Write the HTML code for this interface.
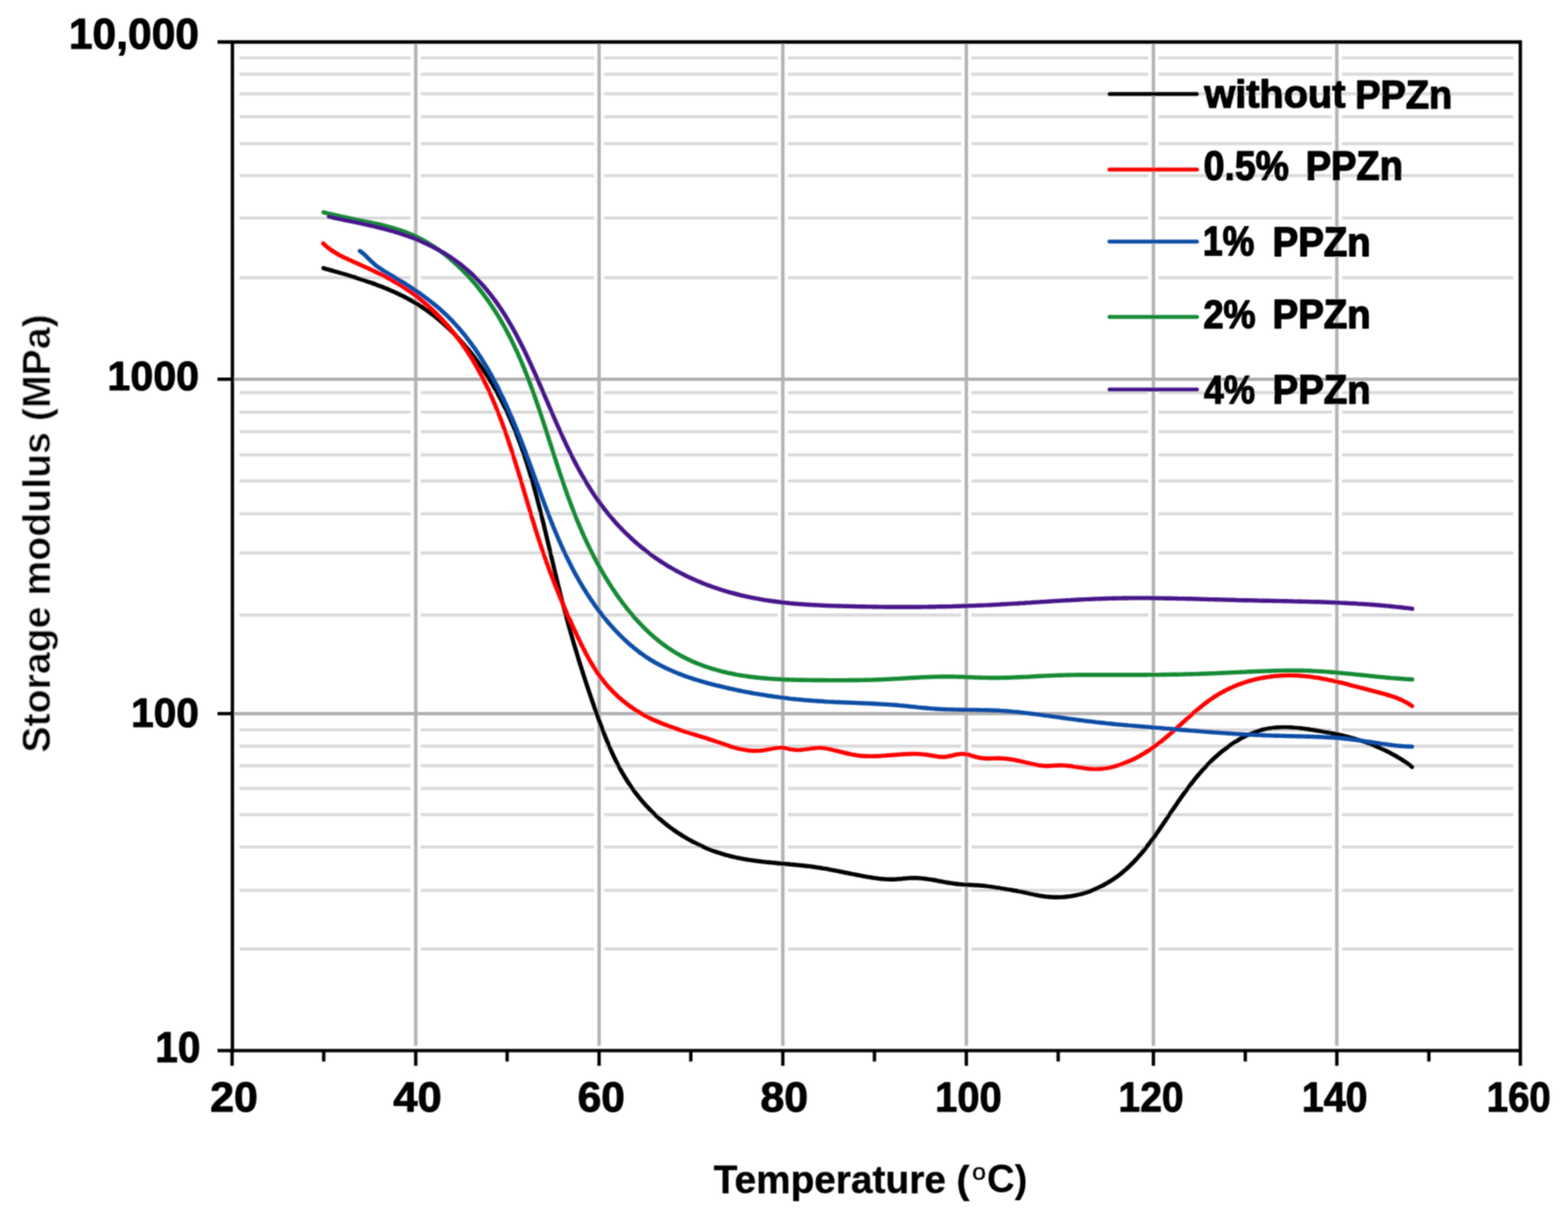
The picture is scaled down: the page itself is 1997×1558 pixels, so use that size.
<!DOCTYPE html>
<html><head><meta charset="utf-8"><title>Storage modulus vs Temperature</title><style>html,body{margin:0;padding:0;background:#fff;overflow:hidden}svg{display:block}</style></head>
<body>
<svg width="1997" height="1558" viewBox="0 0 1997 1558">
<defs><filter id="soft" filterUnits="userSpaceOnUse" x="0" y="0" width="1997" height="1558"><feConvolveMatrix order="3" kernelMatrix="1 2 1 2 4 2 1 2 1" divisor="16" edgeMode="none"/></filter></defs>
<rect width="100%" height="100%" fill="#fff"/>
<g filter="url(#soft)">
<path d="M305.0 73.7H523.0M536.0 73.7H756.5M769.5 73.7H990.5M1003.5 73.7H1224.2M1237.2 73.7H1462.5M1475.5 73.7H1696.1M1709.1 73.7H1927.3M305.0 94.5H523.0M536.0 94.5H756.5M769.5 94.5H990.5M1003.5 94.5H1224.2M1237.2 94.5H1462.5M1475.5 94.5H1696.1M1709.1 94.5H1927.3M305.0 119.6H523.0M536.0 119.6H756.5M769.5 119.6H990.5M1003.5 119.6H1224.2M1237.2 119.6H1462.5M1475.5 119.6H1696.1M1709.1 119.6H1927.3M305.0 148.8H523.0M536.0 148.8H756.5M769.5 148.8H990.5M1003.5 148.8H1224.2M1237.2 148.8H1462.5M1475.5 148.8H1696.1M1709.1 148.8H1927.3M305.0 182.9H523.0M536.0 182.9H756.5M769.5 182.9H990.5M1003.5 182.9H1224.2M1237.2 182.9H1462.5M1475.5 182.9H1696.1M1709.1 182.9H1927.3M305.0 223.7H523.0M536.0 223.7H756.5M769.5 223.7H990.5M1003.5 223.7H1224.2M1237.2 223.7H1462.5M1475.5 223.7H1696.1M1709.1 223.7H1927.3M305.0 277.8H523.0M536.0 277.8H756.5M769.5 277.8H990.5M1003.5 277.8H1224.2M1237.2 277.8H1462.5M1475.5 277.8H1696.1M1709.1 277.8H1927.3M305.0 353.7H523.0M536.0 353.7H756.5M769.5 353.7H990.5M1003.5 353.7H1224.2M1237.2 353.7H1462.5M1475.5 353.7H1696.1M1709.1 353.7H1927.3M305.0 500.2H523.0M536.0 500.2H756.5M769.5 500.2H990.5M1003.5 500.2H1224.2M1237.2 500.2H1462.5M1475.5 500.2H1696.1M1709.1 500.2H1927.3M305.0 524.9H523.0M536.0 524.9H756.5M769.5 524.9H990.5M1003.5 524.9H1224.2M1237.2 524.9H1462.5M1475.5 524.9H1696.1M1709.1 524.9H1927.3M305.0 549.9H523.0M536.0 549.9H756.5M769.5 549.9H990.5M1003.5 549.9H1224.2M1237.2 549.9H1462.5M1475.5 549.9H1696.1M1709.1 549.9H1927.3M305.0 579.6H523.0M536.0 579.6H756.5M769.5 579.6H990.5M1003.5 579.6H1224.2M1237.2 579.6H1462.5M1475.5 579.6H1696.1M1709.1 579.6H1927.3M305.0 612.8H523.0M536.0 612.8H756.5M769.5 612.8H990.5M1003.5 612.8H1224.2M1237.2 612.8H1462.5M1475.5 612.8H1696.1M1709.1 612.8H1927.3M305.0 654.4H523.0M536.0 654.4H756.5M769.5 654.4H990.5M1003.5 654.4H1224.2M1237.2 654.4H1462.5M1475.5 654.4H1696.1M1709.1 654.4H1927.3M305.0 704.5H523.0M536.0 704.5H756.5M769.5 704.5H990.5M1003.5 704.5H1224.2M1237.2 704.5H1462.5M1475.5 704.5H1696.1M1709.1 704.5H1927.3M305.0 783.6H523.0M536.0 783.6H756.5M769.5 783.6H990.5M1003.5 783.6H1224.2M1237.2 783.6H1462.5M1475.5 783.6H1696.1M1709.1 783.6H1927.3M305.0 929.7H523.0M536.0 929.7H756.5M769.5 929.7H990.5M1003.5 929.7H1224.2M1237.2 929.7H1462.5M1475.5 929.7H1696.1M1709.1 929.7H1927.3M305.0 950.6H523.0M536.0 950.6H756.5M769.5 950.6H990.5M1003.5 950.6H1224.2M1237.2 950.6H1462.5M1475.5 950.6H1696.1M1709.1 950.6H1927.3M305.0 975.6H523.0M536.0 975.6H756.5M769.5 975.6H990.5M1003.5 975.6H1224.2M1237.2 975.6H1462.5M1475.5 975.6H1696.1M1709.1 975.6H1927.3M305.0 1004.5H523.0M536.0 1004.5H756.5M769.5 1004.5H990.5M1003.5 1004.5H1224.2M1237.2 1004.5H1462.5M1475.5 1004.5H1696.1M1709.1 1004.5H1927.3M305.0 1037.7H523.0M536.0 1037.7H756.5M769.5 1037.7H990.5M1003.5 1037.7H1224.2M1237.2 1037.7H1462.5M1475.5 1037.7H1696.1M1709.1 1037.7H1927.3M305.0 1079.1H523.0M536.0 1079.1H756.5M769.5 1079.1H990.5M1003.5 1079.1H1224.2M1237.2 1079.1H1462.5M1475.5 1079.1H1696.1M1709.1 1079.1H1927.3M305.0 1134.3H523.0M536.0 1134.3H756.5M769.5 1134.3H990.5M1003.5 1134.3H1224.2M1237.2 1134.3H1462.5M1475.5 1134.3H1696.1M1709.1 1134.3H1927.3M305.0 1208.9H523.0M536.0 1208.9H756.5M769.5 1208.9H990.5M1003.5 1208.9H1224.2M1237.2 1208.9H1462.5M1475.5 1208.9H1696.1M1709.1 1208.9H1927.3" stroke="#dadada" stroke-width="4" fill="none"/>
<path d="M529.5 53.5V1332.3M763.0 53.5V1332.3M997.0 53.5V1332.3M1230.7 53.5V1332.3M1469.0 53.5V1332.3M1702.6 53.5V1332.3" stroke="#b4b4b4" stroke-width="4.4" fill="none"/>
<path d="M296.0 483.1H1936.3M296.0 909.1H1936.3" stroke="#b0b0b0" stroke-width="4.4" fill="none"/>
<g fill="none" stroke-width="5.4" stroke-linejoin="round" stroke-linecap="round">
<path d="M412.1 341.6C412.8 341.8 414.8 342.4 416.1 342.8C417.4 343.1 418.7 343.5 420.1 343.9C421.4 344.3 422.7 344.7 424.0 345.0C425.3 345.4 426.6 345.8 428.0 346.2C429.3 346.6 430.6 346.9 431.9 347.3C433.2 347.7 434.5 348.1 435.8 348.5C437.1 348.9 438.4 349.2 439.7 349.6C441.0 350.0 442.3 350.4 443.6 350.8C444.9 351.2 446.2 351.6 447.4 352.0C448.7 352.4 450.0 352.8 451.3 353.2C452.6 353.6 453.8 354.0 455.1 354.4C456.4 354.8 457.6 355.2 458.9 355.6C460.2 356.0 461.4 356.4 462.7 356.8C464.0 357.2 465.2 357.7 466.5 358.1C467.7 358.5 469.0 358.9 470.2 359.4C471.5 359.8 472.7 360.2 473.9 360.7C475.2 361.1 476.4 361.6 477.7 362.0C478.9 362.5 480.1 362.9 481.3 363.4C482.6 363.9 483.8 364.3 485.0 364.8C486.2 365.3 487.4 365.8 488.6 366.2C489.8 366.7 491.1 367.2 492.3 367.7C493.5 368.2 494.7 368.7 495.9 369.2C497.0 369.7 498.2 370.2 499.4 370.8C500.6 371.3 501.8 371.8 503.0 372.3C504.1 372.9 505.3 373.4 506.5 374.0C507.7 374.5 508.8 375.1 510.0 375.7C511.2 376.2 512.3 376.8 513.5 377.4C514.6 378.0 515.8 378.5 516.9 379.1C518.1 379.7 519.2 380.4 520.3 381.0C521.5 381.6 522.6 382.2 523.7 382.8C524.8 383.5 526.0 384.1 527.1 384.8C528.2 385.4 529.3 386.1 530.4 386.8C531.5 387.4 532.6 388.1 533.7 388.8C534.8 389.5 535.9 390.2 537.0 390.9C538.1 391.6 539.2 392.4 540.3 393.1C541.3 393.8 542.4 394.6 543.5 395.3C544.6 396.1 545.6 396.9 546.7 397.6C547.7 398.4 548.8 399.2 549.8 400.0C550.9 400.8 551.9 401.6 553.0 402.4C554.0 403.2 555.0 404.1 556.1 404.9C557.1 405.7 558.1 406.6 559.1 407.4C560.1 408.3 561.2 409.1 562.2 410.0C563.2 410.9 564.2 411.8 565.2 412.7C566.2 413.6 567.2 414.5 568.1 415.4C569.1 416.3 570.1 417.2 571.1 418.1C572.0 419.0 573.0 420.0 574.0 420.9C574.9 421.8 575.9 422.8 576.8 423.7C577.8 424.7 578.7 425.7 579.7 426.6C580.6 427.6 581.5 428.6 582.5 429.6C583.4 430.6 584.3 431.5 585.2 432.5C586.1 433.5 587.0 434.5 587.9 435.6C588.8 436.6 589.7 437.6 590.6 438.6C591.5 439.6 592.4 440.7 593.3 441.7C594.2 442.7 595.0 443.8 595.9 444.8C596.8 445.9 597.6 446.9 598.5 448.0C599.3 449.0 600.2 450.1 601.0 451.2C601.8 452.2 602.7 453.3 603.5 454.4C604.3 455.5 605.1 456.6 605.9 457.6C606.8 458.7 607.6 459.8 608.4 460.9C609.2 462.0 610.0 463.1 610.7 464.2C611.5 465.3 612.3 466.4 613.1 467.5C613.8 468.7 614.6 469.8 615.4 470.9C616.1 472.0 616.9 473.1 617.6 474.3C618.4 475.4 619.1 476.5 619.8 477.6C620.6 478.8 621.3 479.9 622.0 481.0C622.7 482.2 623.4 483.3 624.1 484.5C624.8 485.6 625.5 486.7 626.2 487.9C626.9 489.0 627.6 490.2 628.2 491.3C628.9 492.5 629.6 493.7 630.2 494.8C630.9 496.0 631.6 497.1 632.2 498.3C632.9 499.5 633.5 500.6 634.1 501.8C634.8 503.0 635.4 504.2 636.0 505.3C636.7 506.5 637.3 507.7 637.9 508.9C638.5 510.0 639.1 511.2 639.7 512.4C640.3 513.6 640.9 514.8 641.5 516.0C642.1 517.2 642.7 518.4 643.3 519.5C643.8 520.7 644.4 521.9 645.0 523.1C645.5 524.3 646.1 525.5 646.7 526.7C647.2 527.9 647.8 529.2 648.3 530.4C648.9 531.6 649.4 532.8 649.9 534.0C650.5 535.2 651.0 536.4 651.5 537.6C652.0 538.9 652.6 540.1 653.1 541.3C653.6 542.5 654.1 543.7 654.6 545.0C655.1 546.2 655.6 547.4 656.1 548.6C656.6 549.9 657.1 551.1 657.6 552.3C658.1 553.6 658.6 554.8 659.0 556.0C659.5 557.3 660.0 558.5 660.4 559.8C660.9 561.0 661.4 562.2 661.8 563.5C662.3 564.7 662.8 566.0 663.2 567.2C663.7 568.5 664.1 569.7 664.6 571.0C665.0 572.2 665.4 573.5 665.9 574.7C666.3 576.0 666.7 577.2 667.2 578.5C667.6 579.7 668.0 581.0 668.4 582.3C668.9 583.5 669.3 584.8 669.7 586.0C670.1 587.3 670.5 588.6 670.9 589.8C671.3 591.1 671.7 592.4 672.1 593.6C672.5 594.9 672.9 596.2 673.3 597.4C673.7 598.7 674.1 600.0 674.5 601.3C674.9 602.5 675.3 603.8 675.6 605.1C676.0 606.4 676.4 607.6 676.8 608.9C677.2 610.2 677.5 611.5 677.9 612.7C678.3 614.0 678.6 615.3 679.0 616.6C679.4 617.9 679.7 619.2 680.1 620.4C680.4 621.7 680.8 623.0 681.2 624.3C681.5 625.6 681.9 626.9 682.2 628.2C682.6 629.4 682.9 630.7 683.3 632.0C683.6 633.3 683.9 634.6 684.3 635.9C684.6 637.2 685.0 638.5 685.3 639.8C685.6 641.0 686.0 642.3 686.3 643.6C686.6 644.9 687.0 646.2 687.3 647.5C687.6 648.8 688.0 650.1 688.3 651.4C688.6 652.7 688.9 654.0 689.3 655.3C689.6 656.6 689.9 657.9 690.2 659.2C690.6 660.5 690.9 661.8 691.2 663.1C691.5 664.4 691.8 665.7 692.2 667.0C692.5 668.3 692.8 669.6 693.1 670.9C693.4 672.2 693.7 673.5 694.0 674.8C694.3 676.1 694.7 677.4 695.0 678.7C695.3 680.0 695.6 681.3 695.9 682.6C696.2 683.9 696.5 685.2 696.8 686.5C697.1 687.8 697.4 689.1 697.7 690.4C698.1 691.7 698.4 693.0 698.7 694.3C699.0 695.6 699.3 696.9 699.6 698.2C699.9 699.5 700.2 700.8 700.5 702.1C700.8 703.4 701.1 704.7 701.4 706.0C701.7 707.3 702.0 708.6 702.3 709.9C702.6 711.2 702.9 712.5 703.3 713.8C703.6 715.1 703.9 716.4 704.2 717.7C704.5 719.0 704.8 720.3 705.1 721.6C705.4 722.9 705.7 724.2 706.0 725.5C706.3 726.8 706.6 728.1 706.9 729.3C707.3 730.6 707.6 731.9 707.9 733.2C708.2 734.5 708.5 735.8 708.8 737.1C709.1 738.4 709.4 739.7 709.8 741.0C710.1 742.3 710.4 743.6 710.7 744.9C711.0 746.2 711.3 747.4 711.7 748.7C712.0 750.0 712.3 751.3 712.6 752.6C713.0 753.9 713.3 755.2 713.6 756.5C713.9 757.8 714.3 759.0 714.6 760.3C714.9 761.6 715.2 762.9 715.6 764.2C715.9 765.5 716.2 766.7 716.6 768.0C716.9 769.3 717.2 770.6 717.6 771.9C717.9 773.2 718.3 774.4 718.6 775.7C718.9 777.0 719.3 778.3 719.6 779.6C720.0 780.8 720.3 782.1 720.6 783.4C721.0 784.7 721.3 785.9 721.7 787.2C722.0 788.5 722.4 789.8 722.7 791.0C723.1 792.3 723.4 793.6 723.8 794.9C724.1 796.1 724.5 797.4 724.8 798.7C725.2 800.0 725.6 801.2 725.9 802.5C726.3 803.8 726.6 805.1 727.0 806.3C727.4 807.6 727.7 808.9 728.1 810.1C728.5 811.4 728.8 812.7 729.2 814.0C729.6 815.2 729.9 816.5 730.3 817.8C730.7 819.0 731.0 820.3 731.4 821.6C731.8 822.8 732.2 824.1 732.5 825.4C732.9 826.6 733.3 827.9 733.7 829.2C734.1 830.4 734.4 831.7 734.8 833.0C735.2 834.2 735.6 835.5 736.0 836.8C736.4 838.0 736.8 839.3 737.1 840.6C737.5 841.8 737.9 843.1 738.3 844.4C738.7 845.6 739.1 846.9 739.5 848.2C739.9 849.4 740.3 850.7 740.7 852.0C741.1 853.2 741.5 854.5 741.9 855.7C742.3 857.0 742.7 858.3 743.1 859.5C743.5 860.8 743.9 862.1 744.3 863.3C744.7 864.6 745.2 865.9 745.6 867.1C746.0 868.4 746.4 869.7 746.8 870.9C747.2 872.2 747.6 873.4 748.1 874.7C748.5 876.0 748.9 877.2 749.3 878.5C749.7 879.8 750.2 881.0 750.6 882.3C751.0 883.5 751.4 884.8 751.9 886.1C752.3 887.3 752.7 888.6 753.2 889.9C753.6 891.1 754.0 892.4 754.5 893.7C754.9 894.9 755.4 896.2 755.8 897.4C756.2 898.7 756.7 900.0 757.1 901.2C757.6 902.5 758.0 903.8 758.5 905.0C758.9 906.3 759.3 907.6 759.8 908.8C760.3 910.1 760.7 911.4 761.2 912.6C761.6 913.9 762.1 915.2 762.5 916.4C763.0 917.7 763.4 918.9 763.9 920.2C764.4 921.5 764.8 922.7 765.3 924.0C765.8 925.3 766.3 926.5 766.7 927.8C767.2 929.0 767.7 930.3 768.2 931.6C768.7 932.8 769.1 934.1 769.6 935.3C770.1 936.6 770.6 937.8 771.1 939.1C771.6 940.4 772.1 941.6 772.6 942.9C773.1 944.1 773.7 945.3 774.2 946.6C774.7 947.8 775.2 949.1 775.7 950.3C776.3 951.6 776.8 952.8 777.4 954.0C777.9 955.3 778.4 956.5 779.0 957.7C779.6 958.9 780.1 960.2 780.7 961.4C781.2 962.6 781.8 963.8 782.4 965.0C783.0 966.2 783.6 967.5 784.2 968.7C784.8 969.9 785.4 971.1 786.0 972.3C786.6 973.5 787.2 974.6 787.8 975.8C788.5 977.0 789.1 978.2 789.7 979.4C790.4 980.6 791.0 981.7 791.7 982.9C792.3 984.1 793.0 985.2 793.7 986.4C794.4 987.5 795.1 988.7 795.8 989.8C796.5 991.0 797.2 992.1 797.9 993.3C798.6 994.4 799.3 995.5 800.0 996.7C800.8 997.8 801.5 998.9 802.3 1000.0C803.0 1001.1 803.8 1002.2 804.5 1003.3C805.3 1004.4 806.1 1005.5 806.9 1006.6C807.7 1007.7 808.5 1008.7 809.3 1009.8C810.1 1010.9 810.9 1011.9 811.7 1013.0C812.5 1014.0 813.3 1015.1 814.2 1016.1C815.0 1017.1 815.9 1018.2 816.7 1019.2C817.6 1020.2 818.4 1021.2 819.3 1022.2C820.2 1023.2 821.1 1024.2 822.0 1025.2C822.8 1026.2 823.7 1027.2 824.7 1028.2C825.6 1029.1 826.5 1030.1 827.4 1031.0C828.3 1032.0 829.3 1032.9 830.2 1033.9C831.1 1034.8 832.1 1035.7 833.0 1036.6C834.0 1037.6 834.9 1038.5 835.9 1039.4C836.9 1040.3 837.9 1041.1 838.9 1042.0C839.8 1042.9 840.8 1043.8 841.8 1044.6C842.8 1045.5 843.8 1046.3 844.9 1047.2C845.9 1048.0 846.9 1048.9 847.9 1049.7C849.0 1050.5 850.0 1051.3 851.0 1052.1C852.1 1052.9 853.1 1053.7 854.2 1054.5C855.2 1055.3 856.3 1056.1 857.4 1056.8C858.4 1057.6 859.5 1058.3 860.6 1059.1C861.7 1059.8 862.8 1060.6 863.9 1061.3C865.0 1062.0 866.1 1062.7 867.2 1063.4C868.3 1064.1 869.4 1064.8 870.5 1065.5C871.6 1066.2 872.8 1066.9 873.9 1067.5C875.0 1068.2 876.2 1068.9 877.3 1069.5C878.4 1070.1 879.6 1070.8 880.8 1071.4C881.9 1072.0 883.1 1072.6 884.2 1073.2C885.4 1073.8 886.6 1074.4 887.7 1075.0C888.9 1075.6 890.1 1076.1 891.3 1076.7C892.5 1077.3 893.7 1077.8 894.9 1078.3C896.1 1078.9 897.3 1079.4 898.5 1079.9C899.7 1080.4 900.9 1080.9 902.1 1081.4C903.3 1081.9 904.5 1082.4 905.7 1082.9C907.0 1083.4 908.2 1083.8 909.4 1084.3C910.7 1084.7 911.9 1085.1 913.1 1085.6C914.4 1086.0 915.6 1086.4 916.9 1086.8C918.1 1087.2 919.4 1087.6 920.6 1088.0C921.9 1088.4 923.1 1088.7 924.4 1089.1C925.6 1089.4 926.9 1089.8 928.2 1090.1C929.5 1090.5 930.7 1090.8 932.0 1091.1C933.3 1091.4 934.6 1091.7 935.8 1092.0C937.1 1092.3 938.4 1092.6 939.7 1092.8C941.0 1093.1 942.3 1093.3 943.6 1093.6C944.9 1093.8 946.2 1094.1 947.5 1094.3C948.8 1094.5 950.1 1094.8 951.4 1095.0C952.7 1095.2 954.0 1095.4 955.3 1095.6C956.6 1095.8 957.9 1096.0 959.2 1096.2C960.5 1096.4 961.8 1096.5 963.2 1096.7C964.5 1096.9 965.8 1097.0 967.1 1097.2C968.4 1097.4 969.8 1097.5 971.1 1097.7C972.4 1097.8 973.7 1098.0 975.1 1098.1C976.4 1098.3 977.7 1098.4 979.1 1098.5C980.4 1098.7 981.7 1098.8 983.1 1098.9C984.4 1099.1 985.7 1099.2 987.1 1099.3C988.4 1099.4 989.7 1099.6 991.1 1099.7C992.4 1099.8 993.7 1099.9 995.1 1100.1C996.4 1100.2 997.8 1100.3 999.1 1100.4C1000.4 1100.5 1001.8 1100.7 1003.1 1100.8C1004.5 1100.9 1005.8 1101.0 1007.1 1101.2C1008.5 1101.3 1009.8 1101.4 1011.2 1101.5C1012.5 1101.7 1013.9 1101.8 1015.2 1101.9C1016.5 1102.1 1017.9 1102.2 1019.2 1102.3C1020.6 1102.5 1021.9 1102.6 1023.2 1102.8C1024.6 1102.9 1025.9 1103.1 1027.3 1103.2C1028.6 1103.4 1029.9 1103.6 1031.3 1103.7C1032.6 1103.9 1034.0 1104.1 1035.3 1104.2C1036.6 1104.4 1038.0 1104.6 1039.3 1104.8C1040.6 1105.0 1042.0 1105.2 1043.3 1105.4C1044.6 1105.6 1046.0 1105.8 1047.3 1106.1C1048.6 1106.3 1050.0 1106.5 1051.3 1106.7C1052.6 1107.0 1053.9 1107.2 1055.3 1107.4C1056.6 1107.7 1057.9 1107.9 1059.2 1108.2C1060.6 1108.4 1061.9 1108.7 1063.2 1108.9C1064.5 1109.2 1065.9 1109.5 1067.2 1109.7C1068.5 1110.0 1069.8 1110.2 1071.1 1110.5C1072.5 1110.8 1073.8 1111.0 1075.1 1111.3C1076.4 1111.6 1077.7 1111.8 1079.1 1112.1C1080.4 1112.4 1081.7 1112.6 1083.0 1112.9C1084.3 1113.2 1085.6 1113.4 1086.9 1113.7C1088.3 1113.9 1089.6 1114.2 1090.9 1114.5C1092.2 1114.7 1093.5 1115.0 1094.8 1115.2C1096.1 1115.5 1097.4 1115.7 1098.8 1116.0C1100.1 1116.2 1101.4 1116.5 1102.7 1116.7C1104.0 1116.9 1105.3 1117.2 1106.6 1117.4C1107.9 1117.6 1109.2 1117.8 1110.5 1118.0C1111.8 1118.2 1113.1 1118.4 1114.4 1118.6C1115.8 1118.8 1117.1 1119.0 1118.4 1119.1C1119.7 1119.3 1121.0 1119.4 1122.3 1119.6C1123.6 1119.7 1124.9 1119.8 1126.2 1119.9C1127.5 1120.0 1128.8 1120.1 1130.1 1120.1C1131.4 1120.2 1132.7 1120.2 1134.0 1120.2C1135.3 1120.2 1136.6 1120.2 1137.9 1120.2C1139.2 1120.2 1140.5 1120.1 1141.8 1120.0C1143.1 1119.9 1144.4 1119.8 1145.7 1119.7C1147.0 1119.6 1148.3 1119.5 1149.6 1119.3C1150.9 1119.2 1152.2 1119.1 1153.5 1119.0C1154.8 1118.8 1156.1 1118.7 1157.4 1118.6C1158.7 1118.6 1160.0 1118.5 1161.3 1118.5C1162.6 1118.4 1163.9 1118.4 1165.2 1118.4C1166.5 1118.5 1167.8 1118.5 1169.1 1118.6C1170.4 1118.7 1171.7 1118.8 1173.0 1118.9C1174.3 1119.0 1175.6 1119.1 1176.9 1119.3C1178.2 1119.4 1179.6 1119.6 1180.9 1119.8C1182.2 1120.0 1183.5 1120.2 1184.8 1120.4C1186.1 1120.6 1187.4 1120.8 1188.7 1121.0C1190.0 1121.3 1191.3 1121.5 1192.6 1121.7C1193.9 1122.0 1195.2 1122.2 1196.5 1122.5C1197.8 1122.7 1199.1 1122.9 1200.4 1123.2C1201.7 1123.4 1203.0 1123.7 1204.3 1123.9C1205.6 1124.1 1206.9 1124.4 1208.2 1124.6C1209.5 1124.8 1210.8 1125.0 1212.1 1125.2C1213.5 1125.4 1214.8 1125.6 1216.1 1125.8C1217.4 1125.9 1218.7 1126.1 1220.0 1126.2C1221.3 1126.4 1222.6 1126.5 1223.9 1126.6C1225.2 1126.7 1226.5 1126.8 1227.9 1126.9C1229.2 1126.9 1230.5 1127.0 1231.8 1127.1C1233.1 1127.2 1234.4 1127.2 1235.7 1127.3C1237.0 1127.3 1238.4 1127.4 1239.7 1127.5C1241.0 1127.5 1242.3 1127.6 1243.6 1127.7C1244.9 1127.8 1246.3 1127.9 1247.6 1128.0C1248.9 1128.1 1250.2 1128.2 1251.5 1128.3C1252.9 1128.5 1254.2 1128.6 1255.5 1128.8C1256.8 1129.0 1258.1 1129.1 1259.5 1129.3C1260.8 1129.5 1262.1 1129.7 1263.4 1129.9C1264.8 1130.2 1266.1 1130.4 1267.4 1130.6C1268.7 1130.8 1270.1 1131.0 1271.4 1131.2C1272.7 1131.5 1274.0 1131.7 1275.4 1131.9C1276.7 1132.1 1278.0 1132.3 1279.3 1132.5C1280.7 1132.7 1282.0 1132.9 1283.3 1133.1C1284.7 1133.3 1286.0 1133.5 1287.3 1133.7C1288.6 1133.9 1290.0 1134.1 1291.3 1134.3C1292.6 1134.6 1294.0 1134.8 1295.3 1135.0C1296.6 1135.2 1298.0 1135.5 1299.3 1135.7C1300.6 1136.0 1301.9 1136.3 1303.3 1136.5C1304.6 1136.8 1305.9 1137.1 1307.3 1137.4C1308.6 1137.7 1309.9 1138.0 1311.3 1138.3C1312.6 1138.6 1313.9 1138.9 1315.2 1139.1C1316.6 1139.4 1317.9 1139.7 1319.2 1140.0C1320.6 1140.3 1321.9 1140.5 1323.2 1140.8C1324.5 1141.0 1325.9 1141.3 1327.2 1141.5C1328.5 1141.7 1329.9 1141.9 1331.2 1142.1C1332.5 1142.3 1333.8 1142.4 1335.2 1142.5C1336.5 1142.7 1337.8 1142.8 1339.1 1142.8C1340.5 1142.9 1341.8 1143.0 1343.1 1143.0C1344.4 1143.0 1345.7 1143.0 1347.0 1143.0C1348.4 1143.0 1349.7 1143.0 1351.0 1142.9C1352.3 1142.9 1353.6 1142.8 1354.9 1142.7C1356.2 1142.6 1357.5 1142.4 1358.8 1142.3C1360.1 1142.2 1361.4 1142.0 1362.7 1141.8C1364.0 1141.6 1365.3 1141.4 1366.6 1141.2C1367.9 1140.9 1369.2 1140.7 1370.4 1140.4C1371.7 1140.1 1373.0 1139.9 1374.3 1139.5C1375.5 1139.2 1376.8 1138.9 1378.0 1138.6C1379.3 1138.2 1380.6 1137.8 1381.8 1137.4C1383.0 1137.1 1384.3 1136.7 1385.5 1136.2C1386.8 1135.8 1388.0 1135.4 1389.2 1134.9C1390.4 1134.4 1391.7 1133.9 1392.9 1133.5C1394.1 1133.0 1395.3 1132.4 1396.5 1131.9C1397.7 1131.4 1398.9 1130.8 1400.0 1130.3C1401.2 1129.7 1402.4 1129.1 1403.6 1128.5C1404.7 1127.9 1405.9 1127.3 1407.0 1126.6C1408.2 1126.0 1409.3 1125.4 1410.5 1124.7C1411.6 1124.0 1412.7 1123.3 1413.8 1122.7C1414.9 1122.0 1416.1 1121.2 1417.2 1120.5C1418.2 1119.8 1419.3 1119.0 1420.4 1118.3C1421.5 1117.5 1422.6 1116.8 1423.6 1116.0C1424.7 1115.2 1425.7 1114.4 1426.8 1113.6C1427.8 1112.8 1428.8 1111.9 1429.8 1111.1C1430.8 1110.3 1431.8 1109.4 1432.8 1108.5C1433.8 1107.7 1434.8 1106.8 1435.8 1105.9C1436.8 1105.0 1437.7 1104.1 1438.7 1103.2C1439.6 1102.3 1440.6 1101.4 1441.5 1100.4C1442.4 1099.5 1443.4 1098.5 1444.3 1097.6C1445.2 1096.6 1446.1 1095.7 1447.0 1094.7C1447.9 1093.7 1448.8 1092.7 1449.7 1091.7C1450.6 1090.7 1451.5 1089.7 1452.3 1088.7C1453.2 1087.7 1454.1 1086.7 1454.9 1085.7C1455.8 1084.6 1456.6 1083.6 1457.5 1082.6C1458.3 1081.5 1459.1 1080.5 1460.0 1079.4C1460.8 1078.4 1461.6 1077.3 1462.4 1076.2C1463.3 1075.2 1464.1 1074.1 1464.9 1073.0C1465.7 1071.9 1466.5 1070.8 1467.3 1069.8C1468.1 1068.7 1468.9 1067.6 1469.7 1066.5C1470.5 1065.4 1471.3 1064.3 1472.0 1063.2C1472.8 1062.1 1473.6 1061.0 1474.4 1059.8C1475.2 1058.7 1475.9 1057.6 1476.7 1056.5C1477.5 1055.4 1478.2 1054.3 1479.0 1053.1C1479.8 1052.0 1480.5 1050.9 1481.3 1049.8C1482.0 1048.7 1482.8 1047.5 1483.6 1046.4C1484.3 1045.3 1485.1 1044.2 1485.8 1043.0C1486.6 1041.9 1487.3 1040.8 1488.1 1039.7C1488.8 1038.5 1489.6 1037.4 1490.3 1036.3C1491.1 1035.2 1491.8 1034.1 1492.6 1032.9C1493.4 1031.8 1494.1 1030.7 1494.9 1029.6C1495.6 1028.5 1496.4 1027.4 1497.1 1026.3C1497.9 1025.2 1498.6 1024.1 1499.4 1023.0C1500.1 1021.9 1500.9 1020.8 1501.7 1019.7C1502.4 1018.6 1503.2 1017.5 1503.9 1016.4C1504.7 1015.3 1505.5 1014.2 1506.3 1013.1C1507.0 1012.0 1507.8 1011.0 1508.6 1009.9C1509.3 1008.8 1510.1 1007.7 1510.9 1006.7C1511.7 1005.6 1512.5 1004.6 1513.3 1003.5C1514.1 1002.4 1514.9 1001.4 1515.7 1000.3C1516.5 999.3 1517.3 998.2 1518.1 997.2C1518.9 996.2 1519.7 995.1 1520.5 994.1C1521.4 993.1 1522.2 992.0 1523.0 991.0C1523.8 990.0 1524.7 989.0 1525.5 988.0C1526.4 987.0 1527.2 986.0 1528.1 985.0C1528.9 984.0 1529.8 983.0 1530.7 982.0C1531.6 981.0 1532.4 980.1 1533.3 979.1C1534.2 978.1 1535.1 977.2 1536.0 976.2C1536.9 975.2 1537.8 974.3 1538.7 973.4C1539.7 972.4 1540.6 971.5 1541.5 970.5C1542.5 969.6 1543.4 968.7 1544.4 967.8C1545.3 966.9 1546.3 966.0 1547.3 965.1C1548.3 964.2 1549.2 963.3 1550.2 962.4C1551.2 961.5 1552.2 960.6 1553.3 959.8C1554.3 958.9 1555.3 958.1 1556.3 957.2C1557.4 956.4 1558.4 955.5 1559.5 954.7C1560.6 953.9 1561.6 953.1 1562.7 952.3C1563.8 951.5 1564.9 950.7 1566.0 949.9C1567.1 949.1 1568.2 948.3 1569.3 947.6C1570.4 946.8 1571.5 946.1 1572.7 945.4C1573.8 944.7 1575.0 943.9 1576.1 943.3C1577.3 942.6 1578.4 941.9 1579.6 941.2C1580.8 940.6 1581.9 939.9 1583.1 939.3C1584.3 938.7 1585.5 938.1 1586.7 937.5C1587.9 936.9 1589.1 936.4 1590.3 935.8C1591.5 935.3 1592.7 934.8 1594.0 934.3C1595.2 933.8 1596.4 933.3 1597.7 932.8C1598.9 932.4 1600.2 931.9 1601.4 931.5C1602.7 931.1 1603.9 930.7 1605.2 930.4C1606.4 930.0 1607.7 929.7 1609.0 929.4C1610.2 929.1 1611.5 928.8 1612.8 928.6C1614.1 928.3 1615.4 928.1 1616.7 927.9C1618.0 927.7 1619.2 927.5 1620.5 927.4C1621.8 927.2 1623.1 927.1 1624.4 927.0C1625.8 926.9 1627.1 926.8 1628.4 926.7C1629.7 926.6 1631.0 926.6 1632.3 926.6C1633.6 926.5 1635.0 926.5 1636.3 926.6C1637.6 926.6 1638.9 926.6 1640.3 926.6C1641.6 926.7 1642.9 926.7 1644.3 926.8C1645.6 926.9 1646.9 927.0 1648.3 927.1C1649.6 927.2 1650.9 927.3 1652.3 927.4C1653.6 927.5 1654.9 927.7 1656.3 927.8C1657.6 927.9 1658.9 928.1 1660.3 928.3C1661.6 928.4 1663.0 928.6 1664.3 928.8C1665.6 928.9 1667.0 929.1 1668.3 929.3C1669.7 929.5 1671.0 929.7 1672.3 929.9C1673.7 930.1 1675.0 930.3 1676.3 930.5C1677.7 930.7 1679.0 930.9 1680.3 931.1C1681.7 931.3 1683.0 931.5 1684.3 931.8C1685.7 932.0 1687.0 932.2 1688.3 932.5C1689.7 932.7 1691.0 933.0 1692.3 933.2C1693.6 933.5 1695.0 933.7 1696.3 934.0C1697.6 934.3 1698.9 934.5 1700.2 934.8C1701.6 935.1 1702.9 935.4 1704.2 935.7C1705.5 936.0 1706.8 936.3 1708.1 936.6C1709.4 936.9 1710.7 937.2 1712.0 937.5C1713.3 937.9 1714.6 938.2 1715.9 938.5C1717.2 938.9 1718.5 939.2 1719.8 939.6C1721.1 939.9 1722.4 940.3 1723.7 940.6C1725.0 941.0 1726.2 941.4 1727.5 941.8C1728.8 942.2 1730.1 942.6 1731.3 943.0C1732.6 943.4 1733.9 943.8 1735.1 944.2C1736.4 944.6 1737.7 945.0 1738.9 945.5C1740.2 945.9 1741.4 946.4 1742.7 946.8C1743.9 947.3 1745.2 947.8 1746.4 948.2C1747.6 948.7 1748.9 949.2 1750.1 949.7C1751.3 950.2 1752.6 950.7 1753.8 951.2C1755.0 951.7 1756.2 952.3 1757.4 952.8C1758.6 953.3 1759.8 953.9 1761.0 954.4C1762.2 955.0 1763.4 955.6 1764.6 956.1C1765.8 956.7 1767.0 957.3 1768.2 957.9C1769.4 958.5 1770.5 959.1 1771.7 959.8C1772.9 960.4 1774.0 961.0 1775.2 961.7C1776.3 962.3 1777.5 963.0 1778.6 963.6C1779.8 964.3 1780.9 965.0 1782.0 965.7C1783.2 966.4 1784.3 967.1 1785.4 967.8C1786.5 968.5 1787.6 969.2 1788.7 970.0C1789.8 970.7 1790.9 971.5 1792.0 972.2C1793.1 973.0 1794.2 973.8 1795.3 974.6C1796.4 975.4 1797.9 976.6 1798.5 977.0" stroke="#000000"/>
<path d="M411.6 310.2C412.1 310.7 413.7 312.1 414.7 313.0C415.8 313.9 416.8 314.8 417.9 315.6C419.0 316.5 420.1 317.3 421.2 318.1C422.3 318.8 423.4 319.6 424.5 320.3C425.6 321.0 426.7 321.7 427.8 322.4C429.0 323.1 430.1 323.7 431.2 324.3C432.4 325.0 433.5 325.6 434.7 326.2C435.8 326.8 437.0 327.3 438.2 327.9C439.3 328.5 440.5 329.0 441.7 329.6C442.9 330.1 444.0 330.7 445.2 331.2C446.4 331.8 447.6 332.3 448.8 332.8C450.0 333.4 451.2 333.9 452.4 334.4C453.6 335.0 454.8 335.5 456.0 336.0C457.2 336.6 458.4 337.1 459.6 337.7C460.8 338.2 462.0 338.7 463.2 339.3C464.4 339.8 465.7 340.4 466.9 340.9C468.1 341.5 469.3 342.1 470.5 342.6C471.7 343.2 472.9 343.7 474.2 344.3C475.4 344.9 476.6 345.5 477.8 346.0C479.0 346.6 480.2 347.2 481.4 347.8C482.6 348.4 483.9 349.0 485.1 349.6C486.3 350.2 487.5 350.8 488.7 351.4C489.9 352.0 491.1 352.6 492.3 353.3C493.4 353.9 494.6 354.5 495.8 355.2C497.0 355.8 498.2 356.4 499.4 357.1C500.5 357.8 501.7 358.4 502.9 359.1C504.0 359.8 505.2 360.4 506.4 361.1C507.5 361.8 508.7 362.5 509.8 363.2C510.9 363.9 512.1 364.6 513.2 365.3C514.3 366.1 515.4 366.8 516.6 367.5C517.7 368.3 518.8 369.0 519.9 369.8C521.0 370.5 522.1 371.3 523.2 372.1C524.3 372.9 525.3 373.6 526.4 374.4C527.5 375.2 528.6 376.0 529.6 376.8C530.7 377.6 531.7 378.4 532.8 379.3C533.8 380.1 534.9 380.9 535.9 381.8C536.9 382.6 538.0 383.4 539.0 384.3C540.0 385.1 541.0 386.0 542.0 386.9C543.0 387.7 544.0 388.6 545.0 389.5C546.0 390.4 547.0 391.3 548.0 392.2C549.0 393.1 549.9 394.0 550.9 394.9C551.9 395.8 552.8 396.7 553.8 397.6C554.7 398.5 555.7 399.5 556.6 400.4C557.6 401.3 558.5 402.3 559.4 403.2C560.3 404.2 561.3 405.1 562.2 406.1C563.1 407.1 564.0 408.0 564.9 409.0C565.8 410.0 566.7 411.0 567.6 412.0C568.4 412.9 569.3 413.9 570.2 414.9C571.1 415.9 571.9 416.9 572.8 417.9C573.6 419.0 574.5 420.0 575.3 421.0C576.2 422.0 577.0 423.0 577.8 424.1C578.7 425.1 579.5 426.1 580.3 427.2C581.1 428.2 581.9 429.3 582.7 430.3C583.5 431.4 584.3 432.4 585.1 433.5C585.9 434.5 586.7 435.6 587.4 436.7C588.2 437.8 589.0 438.8 589.7 439.9C590.5 441.0 591.3 442.1 592.0 443.2C592.7 444.3 593.5 445.3 594.2 446.4C594.9 447.5 595.7 448.6 596.4 449.7C597.1 450.8 597.8 452.0 598.5 453.1C599.2 454.2 599.9 455.3 600.6 456.4C601.3 457.5 602.0 458.7 602.6 459.8C603.3 460.9 604.0 462.1 604.7 463.2C605.3 464.3 606.0 465.5 606.6 466.6C607.3 467.8 607.9 468.9 608.6 470.1C609.2 471.2 609.8 472.4 610.5 473.5C611.1 474.7 611.7 475.8 612.3 477.0C613.0 478.2 613.6 479.3 614.2 480.5C614.8 481.7 615.4 482.9 616.0 484.0C616.6 485.2 617.2 486.4 617.7 487.6C618.3 488.8 618.9 490.0 619.5 491.1C620.1 492.3 620.6 493.5 621.2 494.7C621.8 495.9 622.3 497.1 622.9 498.3C623.4 499.5 624.0 500.7 624.5 501.9C625.1 503.2 625.6 504.4 626.1 505.6C626.7 506.8 627.2 508.0 627.7 509.2C628.2 510.4 628.8 511.7 629.3 512.9C629.8 514.1 630.3 515.3 630.8 516.6C631.3 517.8 631.8 519.0 632.3 520.3C632.8 521.5 633.3 522.7 633.8 524.0C634.3 525.2 634.8 526.5 635.3 527.7C635.8 528.9 636.3 530.2 636.7 531.4C637.2 532.7 637.7 533.9 638.2 535.2C638.6 536.4 639.1 537.7 639.6 538.9C640.0 540.2 640.5 541.4 640.9 542.7C641.4 544.0 641.8 545.2 642.3 546.5C642.8 547.7 643.2 549.0 643.6 550.3C644.1 551.5 644.5 552.8 645.0 554.1C645.4 555.3 645.8 556.6 646.3 557.9C646.7 559.1 647.1 560.4 647.6 561.7C648.0 563.0 648.4 564.2 648.8 565.5C649.3 566.8 649.7 568.1 650.1 569.3C650.5 570.6 650.9 571.9 651.4 573.2C651.8 574.5 652.2 575.7 652.6 577.0C653.0 578.3 653.4 579.6 653.8 580.9C654.2 582.2 654.6 583.4 655.0 584.7C655.4 586.0 655.8 587.3 656.2 588.6C656.6 589.9 657.0 591.2 657.4 592.5C657.8 593.7 658.2 595.0 658.6 596.3C659.0 597.6 659.4 598.9 659.8 600.2C660.2 601.5 660.6 602.8 661.0 604.1C661.4 605.4 661.8 606.7 662.1 607.9C662.5 609.2 662.9 610.5 663.3 611.8C663.7 613.1 664.1 614.4 664.5 615.7C664.8 617.0 665.2 618.3 665.6 619.6C666.0 620.9 666.4 622.2 666.8 623.5C667.1 624.7 667.5 626.0 667.9 627.3C668.3 628.6 668.7 629.9 669.1 631.2C669.4 632.5 669.8 633.8 670.2 635.1C670.6 636.4 671.0 637.7 671.4 639.0C671.7 640.2 672.1 641.5 672.5 642.8C672.9 644.1 673.3 645.4 673.7 646.7C674.0 648.0 674.4 649.3 674.8 650.5C675.2 651.8 675.6 653.1 676.0 654.4C676.4 655.7 676.7 657.0 677.1 658.3C677.5 659.5 677.9 660.8 678.3 662.1C678.7 663.4 679.1 664.7 679.5 665.9C679.9 667.2 680.3 668.5 680.7 669.8C681.1 671.0 681.4 672.3 681.8 673.6C682.2 674.9 682.6 676.1 683.0 677.4C683.4 678.7 683.8 680.0 684.3 681.2C684.7 682.5 685.1 683.8 685.5 685.0C685.9 686.3 686.3 687.5 686.7 688.8C687.1 690.1 687.5 691.3 687.9 692.6C688.4 693.9 688.8 695.1 689.2 696.4C689.6 697.6 690.0 698.9 690.5 700.1C690.9 701.4 691.3 702.6 691.8 703.9C692.2 705.1 692.6 706.4 693.0 707.6C693.5 708.9 693.9 710.1 694.4 711.3C694.8 712.6 695.2 713.8 695.7 715.1C696.1 716.3 696.6 717.5 697.0 718.8C697.5 720.0 697.9 721.3 698.4 722.5C698.8 723.7 699.3 725.0 699.7 726.2C700.2 727.4 700.6 728.7 701.1 729.9C701.6 731.1 702.0 732.3 702.5 733.6C703.0 734.8 703.4 736.0 703.9 737.2C704.4 738.5 704.8 739.7 705.3 740.9C705.8 742.1 706.3 743.4 706.8 744.6C707.2 745.8 707.7 747.0 708.2 748.3C708.7 749.5 709.2 750.7 709.7 751.9C710.2 753.1 710.6 754.3 711.1 755.6C711.6 756.8 712.1 758.0 712.6 759.2C713.1 760.4 713.6 761.6 714.1 762.9C714.7 764.1 715.2 765.3 715.7 766.5C716.2 767.7 716.7 768.9 717.2 770.1C717.7 771.4 718.2 772.6 718.8 773.8C719.3 775.0 719.8 776.2 720.3 777.4C720.9 778.6 721.4 779.8 721.9 781.0C722.4 782.3 723.0 783.5 723.5 784.7C724.1 785.9 724.6 787.1 725.1 788.3C725.7 789.5 726.2 790.7 726.8 791.9C727.3 793.1 727.9 794.4 728.4 795.6C729.0 796.8 729.5 798.0 730.1 799.2C730.6 800.4 731.2 801.6 731.8 802.8C732.3 804.0 732.9 805.3 733.5 806.5C734.0 807.7 734.6 808.9 735.2 810.1C735.7 811.3 736.3 812.5 736.9 813.7C737.5 814.9 738.1 816.2 738.7 817.4C739.2 818.6 739.8 819.8 740.4 821.0C741.0 822.2 741.6 823.4 742.2 824.6C742.8 825.8 743.4 827.0 744.1 828.2C744.7 829.4 745.3 830.6 745.9 831.8C746.6 833.0 747.2 834.2 747.8 835.4C748.5 836.6 749.1 837.8 749.8 839.0C750.5 840.1 751.1 841.3 751.8 842.5C752.5 843.7 753.2 844.8 753.9 846.0C754.6 847.2 755.3 848.3 756.0 849.5C756.7 850.6 757.4 851.8 758.2 852.9C758.9 854.0 759.7 855.2 760.4 856.3C761.2 857.4 761.9 858.5 762.7 859.7C763.5 860.8 764.3 861.9 765.1 863.0C765.9 864.1 766.7 865.1 767.6 866.2C768.4 867.3 769.3 868.4 770.1 869.4C771.0 870.5 771.9 871.5 772.8 872.6C773.7 873.6 774.6 874.7 775.5 875.7C776.4 876.7 777.4 877.7 778.3 878.7C779.3 879.7 780.2 880.7 781.2 881.7C782.2 882.7 783.2 883.6 784.2 884.6C785.2 885.5 786.2 886.5 787.2 887.4C788.2 888.3 789.3 889.2 790.3 890.1C791.4 891.0 792.4 891.9 793.5 892.8C794.5 893.7 795.6 894.5 796.7 895.4C797.8 896.2 798.8 897.1 799.9 897.9C801.0 898.7 802.1 899.5 803.2 900.3C804.3 901.1 805.4 901.8 806.6 902.6C807.7 903.3 808.8 904.1 809.9 904.8C811.0 905.5 812.2 906.2 813.3 906.9C814.4 907.6 815.5 908.3 816.7 908.9C817.8 909.6 819.0 910.2 820.1 910.9C821.2 911.5 822.4 912.1 823.5 912.7C824.7 913.3 825.8 913.9 827.0 914.5C828.1 915.0 829.3 915.6 830.5 916.2C831.6 916.7 832.8 917.2 834.0 917.8C835.1 918.3 836.3 918.8 837.5 919.3C838.6 919.8 839.8 920.3 841.0 920.8C842.2 921.3 843.4 921.8 844.6 922.3C845.7 922.7 846.9 923.2 848.1 923.6C849.3 924.1 850.5 924.5 851.7 925.0C852.9 925.4 854.1 925.9 855.3 926.3C856.5 926.7 857.7 927.1 858.9 927.5C860.1 928.0 861.3 928.4 862.6 928.8C863.8 929.2 865.0 929.6 866.2 930.0C867.4 930.4 868.7 930.8 869.9 931.2C871.1 931.6 872.3 932.0 873.6 932.3C874.8 932.7 876.0 933.1 877.3 933.5C878.5 933.9 879.7 934.3 881.0 934.7C882.2 935.0 883.4 935.4 884.7 935.8C885.9 936.2 887.2 936.6 888.4 937.0C889.7 937.4 890.9 937.8 892.2 938.1C893.4 938.5 894.7 938.9 895.9 939.3C897.2 939.7 898.4 940.1 899.7 940.5C901.0 940.9 902.2 941.4 903.5 941.8C904.8 942.2 906.0 942.6 907.3 943.0C908.6 943.5 909.8 943.9 911.1 944.3C912.4 944.8 913.6 945.2 914.9 945.7C916.2 946.1 917.5 946.5 918.7 947.0C920.0 947.4 921.3 947.9 922.6 948.3C923.9 948.7 925.1 949.1 926.4 949.5C927.7 950.0 929.0 950.4 930.3 950.8C931.6 951.2 932.9 951.5 934.2 951.9C935.4 952.3 936.7 952.6 938.0 953.0C939.3 953.3 940.6 953.6 941.9 953.9C943.2 954.2 944.5 954.5 945.8 954.7C947.1 955.0 948.4 955.2 949.7 955.4C951.0 955.6 952.3 955.8 953.6 956.0C954.9 956.1 956.2 956.2 957.5 956.3C958.8 956.4 960.1 956.5 961.4 956.5C962.7 956.5 964.0 956.5 965.3 956.4C966.6 956.4 967.9 956.3 969.3 956.2C970.6 956.0 971.9 955.8 973.2 955.6C974.5 955.4 975.8 955.2 977.1 954.9C978.4 954.6 979.7 954.3 981.1 954.1C982.4 953.8 983.7 953.5 985.0 953.3C986.3 953.1 987.6 952.8 988.9 952.7C990.3 952.5 991.6 952.4 992.9 952.4C994.2 952.3 995.5 952.4 996.8 952.5C998.1 952.6 999.5 952.9 1000.8 953.1C1002.1 953.3 1003.4 953.6 1004.7 953.9C1006.1 954.2 1007.4 954.5 1008.7 954.7C1010.0 954.9 1011.3 955.1 1012.6 955.2C1014.0 955.4 1015.3 955.4 1016.6 955.4C1017.9 955.4 1019.2 955.3 1020.5 955.2C1021.9 955.1 1023.2 954.9 1024.5 954.7C1025.8 954.5 1027.1 954.3 1028.5 954.1C1029.8 953.9 1031.1 953.7 1032.4 953.5C1033.7 953.3 1035.1 953.1 1036.4 953.0C1037.7 952.8 1039.0 952.7 1040.3 952.6C1041.6 952.5 1043.0 952.5 1044.3 952.5C1045.6 952.6 1046.9 952.7 1048.2 952.8C1049.6 953.0 1050.9 953.2 1052.2 953.4C1053.5 953.6 1054.8 953.9 1056.1 954.2C1057.5 954.5 1058.8 954.8 1060.1 955.1C1061.4 955.4 1062.7 955.8 1064.1 956.1C1065.4 956.4 1066.7 956.8 1068.0 957.1C1069.3 957.4 1070.7 957.8 1072.0 958.1C1073.3 958.4 1074.6 958.8 1075.9 959.1C1077.3 959.4 1078.6 959.7 1079.9 960.0C1081.2 960.3 1082.5 960.6 1083.8 960.9C1085.2 961.1 1086.5 961.4 1087.8 961.6C1089.1 961.9 1090.4 962.1 1091.8 962.3C1093.1 962.5 1094.4 962.6 1095.7 962.8C1097.0 962.9 1098.4 963.0 1099.7 963.1C1101.0 963.2 1102.3 963.3 1103.6 963.3C1104.9 963.4 1106.3 963.4 1107.6 963.4C1108.9 963.4 1110.2 963.4 1111.5 963.4C1112.9 963.4 1114.2 963.4 1115.5 963.3C1116.8 963.3 1118.1 963.2 1119.5 963.1C1120.8 963.1 1122.1 963.0 1123.4 962.9C1124.7 962.8 1126.0 962.7 1127.4 962.6C1128.7 962.5 1130.0 962.4 1131.3 962.3C1132.6 962.2 1134.0 962.1 1135.3 962.0C1136.6 961.9 1137.9 961.8 1139.2 961.7C1140.5 961.6 1141.9 961.5 1143.2 961.4C1144.5 961.3 1145.8 961.2 1147.1 961.1C1148.5 961.0 1149.8 960.9 1151.1 960.8C1152.4 960.7 1153.7 960.7 1155.0 960.6C1156.4 960.6 1157.7 960.5 1159.0 960.5C1160.3 960.4 1161.6 960.4 1162.9 960.4C1164.3 960.4 1165.6 960.4 1166.9 960.4C1168.2 960.5 1169.5 960.5 1170.8 960.6C1172.2 960.7 1173.5 960.7 1174.8 960.9C1176.1 961.0 1177.4 961.1 1178.8 961.2C1180.1 961.4 1181.4 961.6 1182.7 961.8C1184.0 962.0 1185.3 962.3 1186.6 962.5C1188.0 962.7 1189.3 963.0 1190.6 963.2C1191.9 963.5 1193.2 963.7 1194.5 963.9C1195.9 964.1 1197.2 964.2 1198.5 964.3C1199.8 964.3 1201.1 964.3 1202.4 964.2C1203.8 964.2 1205.1 964.0 1206.4 963.8C1207.7 963.6 1209.0 963.3 1210.3 963.0C1211.6 962.7 1213.0 962.4 1214.3 962.1C1215.6 961.8 1216.9 961.5 1218.2 961.2C1219.5 961.0 1220.9 960.7 1222.2 960.6C1223.5 960.5 1224.8 960.4 1226.1 960.4C1227.4 960.4 1228.7 960.6 1230.1 960.8C1231.4 961.0 1232.7 961.3 1234.0 961.6C1235.3 962.0 1236.6 962.4 1237.9 962.8C1239.2 963.2 1240.6 963.6 1241.9 964.0C1243.2 964.3 1244.5 964.7 1245.8 965.0C1247.1 965.3 1248.4 965.5 1249.7 965.7C1251.1 965.8 1252.4 966.0 1253.7 966.0C1255.0 966.1 1256.3 966.2 1257.6 966.2C1258.9 966.2 1260.2 966.2 1261.6 966.2C1262.9 966.2 1264.2 966.1 1265.5 966.1C1266.8 966.1 1268.1 966.1 1269.4 966.0C1270.7 966.0 1272.0 966.0 1273.4 966.0C1274.7 966.1 1276.0 966.1 1277.3 966.2C1278.6 966.2 1279.9 966.4 1281.2 966.5C1282.5 966.6 1283.8 966.8 1285.1 967.0C1286.5 967.2 1287.8 967.4 1289.1 967.6C1290.4 967.8 1291.7 968.1 1293.0 968.3C1294.3 968.6 1295.6 968.9 1296.9 969.2C1298.2 969.5 1299.5 969.8 1300.9 970.1C1302.2 970.4 1303.5 970.7 1304.8 971.0C1306.1 971.4 1307.4 971.7 1308.7 972.0C1310.0 972.3 1311.3 972.6 1312.6 972.9C1313.9 973.2 1315.2 973.5 1316.5 973.7C1317.8 974.0 1319.2 974.3 1320.5 974.5C1321.8 974.7 1323.1 974.9 1324.4 975.1C1325.7 975.2 1327.0 975.4 1328.3 975.5C1329.6 975.6 1330.9 975.7 1332.2 975.7C1333.5 975.7 1334.8 975.7 1336.1 975.7C1337.4 975.6 1338.7 975.5 1340.0 975.4C1341.3 975.4 1342.6 975.3 1343.9 975.2C1345.2 975.1 1346.6 975.0 1347.9 975.0C1349.2 974.9 1350.5 974.9 1351.8 975.0C1353.1 975.0 1354.4 975.0 1355.7 975.1C1357.0 975.2 1358.3 975.3 1359.6 975.5C1360.9 975.6 1362.2 975.8 1363.5 975.9C1364.8 976.1 1366.1 976.3 1367.4 976.5C1368.7 976.6 1370.0 976.9 1371.3 977.1C1372.6 977.3 1373.9 977.5 1375.2 977.7C1376.5 977.9 1377.8 978.1 1379.1 978.2C1380.4 978.4 1381.7 978.6 1383.0 978.8C1384.3 978.9 1385.6 979.1 1386.9 979.2C1388.2 979.3 1389.5 979.4 1390.8 979.5C1392.1 979.5 1393.4 979.6 1394.7 979.6C1396.0 979.6 1397.2 979.6 1398.5 979.5C1399.8 979.5 1401.1 979.4 1402.4 979.3C1403.7 979.2 1405.0 979.0 1406.3 978.9C1407.6 978.7 1408.9 978.5 1410.2 978.3C1411.5 978.1 1412.7 977.8 1414.0 977.6C1415.3 977.3 1416.6 977.0 1417.9 976.7C1419.1 976.4 1420.4 976.0 1421.7 975.7C1422.9 975.3 1424.2 974.9 1425.5 974.5C1426.7 974.1 1428.0 973.7 1429.3 973.2C1430.5 972.8 1431.8 972.3 1433.0 971.8C1434.3 971.3 1435.5 970.8 1436.7 970.3C1438.0 969.8 1439.2 969.2 1440.5 968.6C1441.7 968.1 1442.9 967.5 1444.1 966.9C1445.3 966.3 1446.6 965.7 1447.8 965.0C1449.0 964.4 1450.2 963.7 1451.4 963.1C1452.6 962.4 1453.8 961.7 1454.9 961.0C1456.1 960.3 1457.3 959.6 1458.5 958.9C1459.6 958.1 1460.8 957.4 1462.0 956.7C1463.1 955.9 1464.3 955.1 1465.4 954.4C1466.5 953.6 1467.7 952.8 1468.8 952.0C1469.9 951.2 1471.0 950.4 1472.2 949.6C1473.3 948.8 1474.4 947.9 1475.5 947.1C1476.5 946.3 1477.6 945.4 1478.7 944.6C1479.8 943.7 1480.8 942.9 1481.9 942.0C1483.0 941.1 1484.0 940.3 1485.1 939.4C1486.1 938.5 1487.2 937.6 1488.2 936.7C1489.2 935.9 1490.3 935.0 1491.3 934.1C1492.3 933.2 1493.3 932.3 1494.4 931.4C1495.4 930.5 1496.4 929.6 1497.4 928.7C1498.4 927.8 1499.4 926.8 1500.4 925.9C1501.4 925.0 1502.4 924.1 1503.4 923.2C1504.4 922.3 1505.4 921.4 1506.4 920.5C1507.4 919.6 1508.4 918.7 1509.4 917.8C1510.4 916.9 1511.4 916.0 1512.4 915.1C1513.4 914.2 1514.4 913.3 1515.4 912.4C1516.4 911.5 1517.4 910.6 1518.4 909.7C1519.4 908.9 1520.4 908.0 1521.4 907.1C1522.4 906.2 1523.4 905.4 1524.4 904.5C1525.5 903.7 1526.5 902.8 1527.5 902.0C1528.5 901.1 1529.5 900.3 1530.6 899.5C1531.6 898.7 1532.6 897.8 1533.6 897.0C1534.7 896.2 1535.7 895.4 1536.8 894.7C1537.8 893.9 1538.9 893.1 1539.9 892.3C1541.0 891.6 1542.1 890.8 1543.1 890.1C1544.2 889.4 1545.3 888.6 1546.4 887.9C1547.5 887.2 1548.6 886.5 1549.7 885.8C1550.8 885.2 1551.9 884.5 1553.0 883.8C1554.1 883.2 1555.3 882.5 1556.4 881.9C1557.5 881.3 1558.7 880.7 1559.8 880.1C1561.0 879.5 1562.1 878.9 1563.3 878.3C1564.5 877.7 1565.6 877.2 1566.8 876.6C1568.0 876.1 1569.2 875.6 1570.3 875.0C1571.5 874.5 1572.7 874.0 1573.9 873.5C1575.1 873.0 1576.3 872.6 1577.5 872.1C1578.8 871.6 1580.0 871.2 1581.2 870.7C1582.4 870.3 1583.6 869.9 1584.9 869.5C1586.1 869.1 1587.4 868.7 1588.6 868.3C1589.8 867.9 1591.1 867.5 1592.3 867.2C1593.6 866.8 1594.9 866.5 1596.1 866.2C1597.4 865.8 1598.6 865.5 1599.9 865.2C1601.2 864.9 1602.5 864.6 1603.8 864.4C1605.0 864.1 1606.3 863.8 1607.6 863.6C1608.9 863.4 1610.2 863.1 1611.5 862.9C1612.8 862.7 1614.1 862.5 1615.4 862.3C1616.7 862.1 1618.0 861.9 1619.3 861.8C1620.6 861.6 1621.9 861.5 1623.2 861.3C1624.6 861.2 1625.9 861.1 1627.2 861.0C1628.5 860.9 1629.8 860.8 1631.2 860.7C1632.5 860.6 1633.8 860.5 1635.2 860.5C1636.5 860.4 1637.8 860.4 1639.2 860.4C1640.5 860.4 1641.8 860.3 1643.2 860.4C1644.5 860.4 1645.9 860.4 1647.2 860.4C1648.6 860.4 1649.9 860.5 1651.3 860.5C1652.6 860.6 1653.9 860.7 1655.3 860.8C1656.6 860.9 1658.0 861.0 1659.3 861.1C1660.7 861.2 1662.1 861.3 1663.4 861.5C1664.8 861.6 1666.1 861.8 1667.5 861.9C1668.8 862.1 1670.2 862.3 1671.5 862.5C1672.9 862.7 1674.2 862.9 1675.6 863.1C1677.0 863.3 1678.3 863.5 1679.7 863.7C1681.0 864.0 1682.4 864.2 1683.7 864.5C1685.1 864.7 1686.4 865.0 1687.8 865.2C1689.2 865.5 1690.5 865.8 1691.9 866.1C1693.2 866.3 1694.6 866.6 1695.9 866.9C1697.3 867.2 1698.6 867.5 1700.0 867.8C1701.3 868.1 1702.7 868.5 1704.0 868.8C1705.3 869.1 1706.7 869.4 1708.0 869.7C1709.4 870.1 1710.7 870.4 1712.1 870.7C1713.4 871.1 1714.7 871.4 1716.1 871.7C1717.4 872.1 1718.7 872.4 1720.1 872.8C1721.4 873.1 1722.7 873.5 1724.0 873.8C1725.4 874.1 1726.7 874.5 1728.0 874.8C1729.3 875.2 1730.6 875.5 1731.9 875.9C1733.3 876.2 1734.6 876.6 1735.9 876.9C1737.2 877.3 1738.5 877.6 1739.8 877.9C1741.1 878.3 1742.4 878.6 1743.7 878.9C1745.0 879.3 1746.2 879.6 1747.5 879.9C1748.8 880.3 1750.1 880.6 1751.4 880.9C1752.6 881.2 1753.9 881.5 1755.2 881.9C1756.4 882.2 1757.7 882.5 1759.0 882.9C1760.2 883.2 1761.5 883.5 1762.7 883.9C1764.0 884.2 1765.2 884.6 1766.4 885.0C1767.7 885.3 1768.9 885.7 1770.1 886.1C1771.4 886.5 1772.6 886.9 1773.8 887.3C1775.0 887.7 1776.2 888.2 1777.4 888.6C1778.6 889.1 1779.8 889.6 1781.0 890.1C1782.2 890.5 1783.4 891.1 1784.6 891.6C1785.8 892.1 1786.9 892.7 1788.1 893.3C1789.3 893.9 1790.4 894.5 1791.6 895.2C1792.7 895.8 1793.9 896.5 1795.0 897.2C1796.1 897.9 1797.8 899.0 1798.4 899.4" stroke="#ff0000"/>
<path d="M458.3 319.8C458.8 320.1 460.3 321.1 461.3 321.9C462.3 322.7 463.3 323.6 464.3 324.6C465.3 325.5 466.3 326.5 467.4 327.5C468.4 328.5 469.4 329.6 470.5 330.6C471.5 331.6 472.6 332.7 473.6 333.7C474.7 334.6 475.7 335.6 476.8 336.5C477.8 337.4 478.9 338.3 480.0 339.1C481.0 339.9 482.1 340.7 483.2 341.4C484.2 342.2 485.3 342.9 486.4 343.6C487.5 344.3 488.6 345.0 489.6 345.7C490.7 346.3 491.8 347.0 492.9 347.6C494.0 348.2 495.1 348.9 496.2 349.5C497.3 350.2 498.4 350.8 499.5 351.4C500.6 352.1 501.6 352.7 502.7 353.4C503.8 354.0 504.9 354.7 506.0 355.3C507.1 356.0 508.2 356.7 509.3 357.3C510.4 358.0 511.5 358.7 512.6 359.4C513.7 360.0 514.8 360.7 515.9 361.4C517.0 362.1 518.1 362.8 519.2 363.5C520.3 364.2 521.4 364.9 522.5 365.6C523.6 366.3 524.7 367.1 525.8 367.8C526.9 368.5 528.0 369.2 529.0 370.0C530.1 370.7 531.2 371.4 532.3 372.2C533.4 372.9 534.4 373.7 535.5 374.4C536.6 375.2 537.6 376.0 538.7 376.7C539.8 377.5 540.8 378.3 541.9 379.1C542.9 379.9 544.0 380.6 545.0 381.4C546.1 382.2 547.1 383.0 548.2 383.9C549.2 384.7 550.3 385.5 551.3 386.3C552.3 387.1 553.3 388.0 554.3 388.8C555.4 389.6 556.4 390.5 557.4 391.3C558.4 392.2 559.4 393.1 560.4 393.9C561.4 394.8 562.3 395.7 563.3 396.6C564.3 397.4 565.3 398.3 566.2 399.2C567.2 400.1 568.2 401.0 569.1 401.9C570.1 402.9 571.0 403.8 571.9 404.7C572.9 405.6 573.8 406.6 574.7 407.5C575.6 408.5 576.5 409.4 577.4 410.4C578.3 411.3 579.2 412.3 580.1 413.3C581.0 414.2 581.9 415.2 582.8 416.2C583.7 417.2 584.5 418.2 585.4 419.2C586.3 420.2 587.1 421.2 588.0 422.2C588.8 423.2 589.6 424.2 590.5 425.3C591.3 426.3 592.2 427.3 593.0 428.3C593.8 429.4 594.6 430.4 595.4 431.5C596.2 432.5 597.0 433.6 597.8 434.6C598.6 435.7 599.4 436.8 600.2 437.8C601.0 438.9 601.8 440.0 602.5 441.1C603.3 442.2 604.1 443.2 604.9 444.3C605.6 445.4 606.4 446.5 607.1 447.6C607.9 448.7 608.6 449.8 609.3 451.0C610.1 452.1 610.8 453.2 611.5 454.3C612.3 455.4 613.0 456.6 613.7 457.7C614.4 458.8 615.1 460.0 615.8 461.1C616.5 462.2 617.2 463.4 617.9 464.5C618.6 465.7 619.3 466.8 620.0 468.0C620.7 469.2 621.4 470.3 622.0 471.5C622.7 472.6 623.4 473.8 624.0 475.0C624.7 476.2 625.4 477.3 626.0 478.5C626.7 479.7 627.3 480.9 627.9 482.1C628.6 483.3 629.2 484.4 629.9 485.6C630.5 486.8 631.1 488.0 631.7 489.2C632.4 490.4 633.0 491.6 633.6 492.8C634.2 494.0 634.8 495.2 635.4 496.5C636.0 497.7 636.6 498.9 637.2 500.1C637.8 501.3 638.4 502.5 639.0 503.8C639.6 505.0 640.2 506.2 640.8 507.4C641.4 508.6 641.9 509.9 642.5 511.1C643.1 512.3 643.6 513.6 644.2 514.8C644.8 516.0 645.3 517.3 645.9 518.5C646.4 519.7 647.0 521.0 647.6 522.2C648.1 523.5 648.6 524.7 649.2 525.9C649.7 527.2 650.3 528.4 650.8 529.7C651.3 530.9 651.9 532.2 652.4 533.4C652.9 534.7 653.5 535.9 654.0 537.1C654.5 538.4 655.0 539.6 655.5 540.9C656.0 542.1 656.6 543.4 657.1 544.6C657.6 545.9 658.1 547.1 658.6 548.4C659.1 549.6 659.6 550.9 660.1 552.2C660.6 553.4 661.1 554.7 661.6 555.9C662.1 557.2 662.6 558.4 663.0 559.7C663.5 560.9 664.0 562.2 664.5 563.4C665.0 564.7 665.5 565.9 665.9 567.2C666.4 568.4 666.9 569.7 667.4 570.9C667.8 572.2 668.3 573.4 668.8 574.7C669.2 575.9 669.7 577.2 670.2 578.4C670.6 579.7 671.1 580.9 671.6 582.2C672.0 583.4 672.5 584.7 673.0 585.9C673.4 587.2 673.9 588.4 674.3 589.7C674.8 590.9 675.2 592.2 675.7 593.4C676.2 594.7 676.6 595.9 677.1 597.2C677.5 598.4 678.0 599.7 678.4 600.9C678.9 602.2 679.3 603.4 679.8 604.7C680.2 605.9 680.7 607.2 681.1 608.4C681.6 609.6 682.0 610.9 682.5 612.1C682.9 613.4 683.4 614.6 683.9 615.9C684.3 617.1 684.8 618.4 685.2 619.6C685.7 620.8 686.1 622.1 686.6 623.3C687.0 624.6 687.5 625.8 687.9 627.0C688.4 628.3 688.8 629.5 689.3 630.8C689.7 632.0 690.2 633.2 690.6 634.5C691.1 635.7 691.6 636.9 692.0 638.2C692.5 639.4 692.9 640.6 693.4 641.9C693.9 643.1 694.3 644.3 694.8 645.6C695.3 646.8 695.7 648.0 696.2 649.3C696.7 650.5 697.1 651.7 697.6 652.9C698.1 654.2 698.5 655.4 699.0 656.6C699.5 657.8 700.0 659.1 700.4 660.3C700.9 661.5 701.4 662.7 701.9 664.0C702.4 665.2 702.9 666.4 703.4 667.6C703.8 668.8 704.3 670.0 704.8 671.3C705.3 672.5 705.8 673.7 706.3 674.9C706.8 676.1 707.3 677.3 707.8 678.5C708.3 679.7 708.8 681.0 709.4 682.2C709.9 683.4 710.4 684.6 710.9 685.8C711.4 687.0 711.9 688.2 712.5 689.4C713.0 690.6 713.5 691.8 714.1 693.0C714.6 694.2 715.1 695.4 715.7 696.6C716.2 697.8 716.7 699.0 717.3 700.2C717.8 701.4 718.4 702.6 719.0 703.7C719.5 704.9 720.1 706.1 720.6 707.3C721.2 708.5 721.8 709.7 722.4 710.9C722.9 712.0 723.5 713.2 724.1 714.4C724.7 715.6 725.3 716.8 725.9 717.9C726.5 719.1 727.1 720.3 727.7 721.5C728.3 722.6 728.9 723.8 729.5 725.0C730.1 726.1 730.7 727.3 731.3 728.5C732.0 729.6 732.6 730.8 733.2 732.0C733.9 733.1 734.5 734.3 735.2 735.4C735.8 736.6 736.5 737.8 737.1 738.9C737.8 740.1 738.5 741.2 739.1 742.4C739.8 743.5 740.5 744.7 741.2 745.8C741.9 747.0 742.5 748.1 743.2 749.2C743.9 750.4 744.6 751.5 745.4 752.6C746.1 753.8 746.8 754.9 747.5 756.1C748.2 757.2 749.0 758.3 749.7 759.4C750.4 760.6 751.2 761.7 751.9 762.8C752.7 763.9 753.5 765.0 754.2 766.2C755.0 767.3 755.8 768.4 756.5 769.5C757.3 770.6 758.1 771.7 758.9 772.8C759.7 773.9 760.5 775.0 761.3 776.1C762.1 777.2 762.9 778.3 763.7 779.3C764.6 780.4 765.4 781.5 766.2 782.6C767.1 783.6 767.9 784.7 768.7 785.8C769.6 786.8 770.5 787.9 771.3 788.9C772.2 790.0 773.0 791.0 773.9 792.1C774.8 793.1 775.7 794.1 776.6 795.2C777.5 796.2 778.4 797.2 779.3 798.2C780.2 799.2 781.1 800.2 782.0 801.2C782.9 802.2 783.8 803.2 784.8 804.2C785.7 805.2 786.6 806.2 787.6 807.1C788.5 808.1 789.5 809.0 790.4 810.0C791.4 810.9 792.3 811.9 793.3 812.8C794.3 813.8 795.3 814.7 796.3 815.6C797.2 816.5 798.2 817.4 799.2 818.3C800.2 819.2 801.2 820.1 802.2 821.0C803.3 821.9 804.3 822.7 805.3 823.6C806.3 824.5 807.4 825.3 808.4 826.1C809.5 827.0 810.5 827.8 811.6 828.6C812.6 829.4 813.7 830.3 814.7 831.1C815.8 831.8 816.9 832.6 818.0 833.4C819.1 834.2 820.1 834.9 821.2 835.7C822.3 836.4 823.4 837.2 824.5 837.9C825.7 838.6 826.8 839.4 827.9 840.1C829.0 840.8 830.2 841.5 831.3 842.1C832.4 842.8 833.6 843.5 834.7 844.1C835.9 844.8 837.0 845.4 838.2 846.1C839.4 846.7 840.5 847.3 841.7 847.9C842.9 848.5 844.1 849.1 845.3 849.7C846.4 850.3 847.6 850.9 848.8 851.5C850.0 852.0 851.2 852.6 852.4 853.1C853.6 853.7 854.9 854.2 856.1 854.7C857.3 855.3 858.5 855.8 859.7 856.3C861.0 856.8 862.2 857.3 863.4 857.8C864.7 858.3 865.9 858.8 867.2 859.2C868.4 859.7 869.7 860.2 870.9 860.6C872.2 861.1 873.4 861.6 874.7 862.0C875.9 862.4 877.2 862.9 878.5 863.3C879.7 863.7 881.0 864.1 882.3 864.6C883.5 865.0 884.8 865.4 886.1 865.8C887.4 866.2 888.6 866.6 889.9 866.9C891.2 867.3 892.5 867.7 893.8 868.1C895.1 868.5 896.3 868.8 897.6 869.2C898.9 869.5 900.2 869.9 901.5 870.3C902.8 870.6 904.1 870.9 905.4 871.3C906.7 871.6 908.0 872.0 909.3 872.3C910.6 872.6 911.9 873.0 913.2 873.3C914.5 873.6 915.8 873.9 917.1 874.2C918.4 874.5 919.7 874.9 921.0 875.2C922.3 875.5 923.6 875.8 924.9 876.1C926.2 876.4 927.5 876.7 928.8 877.0C930.1 877.3 931.4 877.5 932.7 877.8C934.0 878.1 935.3 878.4 936.6 878.7C937.9 878.9 939.2 879.2 940.5 879.5C941.8 879.8 943.1 880.0 944.4 880.3C945.7 880.5 947.0 880.8 948.3 881.1C949.6 881.3 950.9 881.6 952.2 881.8C953.5 882.1 954.9 882.3 956.2 882.5C957.5 882.8 958.8 883.0 960.1 883.3C961.4 883.5 962.7 883.7 964.0 883.9C965.3 884.2 966.6 884.4 967.9 884.6C969.2 884.8 970.5 885.0 971.8 885.2C973.2 885.5 974.5 885.7 975.8 885.9C977.1 886.1 978.4 886.3 979.7 886.5C981.0 886.7 982.3 886.9 983.6 887.0C984.9 887.2 986.3 887.4 987.6 887.6C988.9 887.8 990.2 888.0 991.5 888.1C992.8 888.3 994.1 888.5 995.4 888.6C996.7 888.8 998.1 889.0 999.4 889.1C1000.7 889.3 1002.0 889.5 1003.3 889.6C1004.6 889.8 1005.9 889.9 1007.2 890.1C1008.6 890.2 1009.9 890.3 1011.2 890.5C1012.5 890.6 1013.8 890.8 1015.1 890.9C1016.4 891.0 1017.8 891.2 1019.1 891.3C1020.4 891.4 1021.7 891.5 1023.0 891.6C1024.3 891.8 1025.7 891.9 1027.0 892.0C1028.3 892.1 1029.6 892.2 1030.9 892.3C1032.2 892.4 1033.6 892.5 1034.9 892.6C1036.2 892.7 1037.5 892.8 1038.8 892.9C1040.1 893.0 1041.5 893.1 1042.8 893.2C1044.1 893.3 1045.4 893.3 1046.7 893.4C1048.0 893.5 1049.4 893.6 1050.7 893.7C1052.0 893.7 1053.3 893.8 1054.6 893.9C1056.0 893.9 1057.3 894.0 1058.6 894.1C1059.9 894.1 1061.2 894.2 1062.6 894.3C1063.9 894.3 1065.2 894.4 1066.5 894.5C1067.8 894.5 1069.2 894.6 1070.5 894.6C1071.8 894.7 1073.1 894.7 1074.4 894.8C1075.8 894.9 1077.1 894.9 1078.4 895.0C1079.7 895.0 1081.1 895.1 1082.4 895.1C1083.7 895.2 1085.0 895.2 1086.3 895.3C1087.7 895.3 1089.0 895.4 1090.3 895.4C1091.6 895.5 1093.0 895.6 1094.3 895.6C1095.6 895.7 1096.9 895.7 1098.2 895.8C1099.6 895.8 1100.9 895.9 1102.2 896.0C1103.5 896.0 1104.9 896.1 1106.2 896.1C1107.5 896.2 1108.8 896.3 1110.2 896.3C1111.5 896.4 1112.8 896.5 1114.1 896.5C1115.5 896.6 1116.8 896.7 1118.1 896.7C1119.4 896.8 1120.8 896.9 1122.1 897.0C1123.4 897.0 1124.7 897.1 1126.1 897.2C1127.4 897.3 1128.7 897.4 1130.0 897.4C1131.4 897.5 1132.7 897.6 1134.0 897.7C1135.3 897.8 1136.7 897.9 1138.0 898.0C1139.3 898.1 1140.6 898.2 1142.0 898.3C1143.3 898.4 1144.6 898.5 1146.0 898.7C1147.3 898.8 1148.6 898.9 1149.9 899.0C1151.3 899.2 1152.6 899.3 1153.9 899.4C1155.2 899.5 1156.6 899.7 1157.9 899.8C1159.2 900.0 1160.6 900.1 1161.9 900.2C1163.2 900.4 1164.5 900.5 1165.9 900.6C1167.2 900.8 1168.5 900.9 1169.8 901.1C1171.2 901.2 1172.5 901.3 1173.8 901.5C1175.2 901.6 1176.5 901.7 1177.8 901.9C1179.1 902.0 1180.5 902.1 1181.8 902.2C1183.1 902.4 1184.5 902.5 1185.8 902.6C1187.1 902.7 1188.4 902.8 1189.8 902.9C1191.1 903.0 1192.4 903.1 1193.8 903.2C1195.1 903.3 1196.4 903.3 1197.8 903.4C1199.1 903.5 1200.4 903.5 1201.7 903.6C1203.1 903.7 1204.4 903.7 1205.7 903.8C1207.1 903.8 1208.4 903.9 1209.7 903.9C1211.0 904.0 1212.4 904.0 1213.7 904.0C1215.0 904.1 1216.4 904.1 1217.7 904.1C1219.0 904.1 1220.4 904.2 1221.7 904.2C1223.0 904.2 1224.3 904.2 1225.7 904.2C1227.0 904.3 1228.3 904.3 1229.7 904.3C1231.0 904.3 1232.3 904.3 1233.7 904.4C1235.0 904.4 1236.3 904.4 1237.6 904.4C1239.0 904.4 1240.3 904.4 1241.6 904.4C1243.0 904.5 1244.3 904.5 1245.6 904.5C1247.0 904.5 1248.3 904.5 1249.6 904.6C1250.9 904.6 1252.3 904.6 1253.6 904.6C1254.9 904.7 1256.3 904.7 1257.6 904.7C1258.9 904.8 1260.3 904.8 1261.6 904.9C1262.9 904.9 1264.3 905.0 1265.6 905.0C1266.9 905.1 1268.2 905.1 1269.6 905.2C1270.9 905.3 1272.2 905.3 1273.6 905.4C1274.9 905.5 1276.2 905.6 1277.6 905.6C1278.9 905.7 1280.2 905.8 1281.5 905.9C1282.9 906.0 1284.2 906.1 1285.5 906.2C1286.9 906.3 1288.2 906.4 1289.5 906.6C1290.9 906.7 1292.2 906.8 1293.5 906.9C1294.8 907.1 1296.2 907.2 1297.5 907.3C1298.8 907.5 1300.2 907.6 1301.5 907.7C1302.8 907.9 1304.2 908.0 1305.5 908.2C1306.8 908.3 1308.1 908.5 1309.5 908.6C1310.8 908.8 1312.1 908.9 1313.5 909.1C1314.8 909.3 1316.1 909.4 1317.5 909.6C1318.8 909.8 1320.1 909.9 1321.4 910.1C1322.8 910.3 1324.1 910.5 1325.4 910.6C1326.8 910.8 1328.1 911.0 1329.4 911.2C1330.8 911.3 1332.1 911.5 1333.4 911.7C1334.7 911.9 1336.1 912.1 1337.4 912.2C1338.7 912.4 1340.1 912.6 1341.4 912.8C1342.7 913.0 1344.0 913.2 1345.4 913.3C1346.7 913.5 1348.0 913.7 1349.4 913.9C1350.7 914.1 1352.0 914.3 1353.3 914.5C1354.7 914.6 1356.0 914.8 1357.3 915.0C1358.7 915.2 1360.0 915.4 1361.3 915.6C1362.6 915.7 1364.0 915.9 1365.3 916.1C1366.6 916.3 1367.9 916.5 1369.3 916.6C1370.6 916.8 1371.9 917.0 1373.3 917.2C1374.6 917.3 1375.9 917.5 1377.2 917.7C1378.6 917.9 1379.9 918.0 1381.2 918.2C1382.5 918.3 1383.9 918.5 1385.2 918.7C1386.5 918.8 1387.9 919.0 1389.2 919.1C1390.5 919.3 1391.8 919.5 1393.2 919.6C1394.5 919.8 1395.8 919.9 1397.1 920.1C1398.5 920.2 1399.8 920.4 1401.1 920.5C1402.4 920.7 1403.8 920.8 1405.1 920.9C1406.4 921.1 1407.7 921.2 1409.1 921.4C1410.4 921.5 1411.7 921.6 1413.0 921.8C1414.4 921.9 1415.7 922.0 1417.0 922.2C1418.3 922.3 1419.7 922.4 1421.0 922.6C1422.3 922.7 1423.6 922.8 1425.0 923.0C1426.3 923.1 1427.6 923.2 1428.9 923.3C1430.3 923.5 1431.6 923.6 1432.9 923.7C1434.2 923.8 1435.6 923.9 1436.9 924.1C1438.2 924.2 1439.5 924.3 1440.9 924.4C1442.2 924.5 1443.5 924.7 1444.8 924.8C1446.2 924.9 1447.5 925.0 1448.8 925.1C1450.1 925.2 1451.5 925.4 1452.8 925.5C1454.1 925.6 1455.4 925.7 1456.8 925.8C1458.1 925.9 1459.4 926.0 1460.7 926.1C1462.0 926.2 1463.4 926.4 1464.7 926.5C1466.0 926.6 1467.3 926.7 1468.7 926.8C1470.0 926.9 1471.3 927.0 1472.6 927.1C1474.0 927.2 1475.3 927.3 1476.6 927.4C1477.9 927.5 1479.3 927.6 1480.6 927.8C1481.9 927.9 1483.2 928.0 1484.5 928.1C1485.9 928.2 1487.2 928.3 1488.5 928.4C1489.8 928.5 1491.2 928.6 1492.5 928.7C1493.8 928.8 1495.1 928.9 1496.4 929.0C1497.8 929.1 1499.1 929.2 1500.4 929.3C1501.7 929.4 1503.1 929.6 1504.4 929.7C1505.7 929.8 1507.0 929.9 1508.4 930.0C1509.7 930.1 1511.0 930.2 1512.3 930.3C1513.6 930.4 1515.0 930.5 1516.3 930.6C1517.6 930.7 1518.9 930.8 1520.3 930.9C1521.6 931.0 1522.9 931.1 1524.2 931.2C1525.5 931.3 1526.9 931.4 1528.2 931.5C1529.5 931.6 1530.8 931.8 1532.2 931.9C1533.5 932.0 1534.8 932.1 1536.1 932.2C1537.4 932.3 1538.8 932.4 1540.1 932.5C1541.4 932.6 1542.7 932.7 1544.1 932.8C1545.4 932.9 1546.7 933.0 1548.0 933.1C1549.3 933.1 1550.7 933.2 1552.0 933.3C1553.3 933.4 1554.6 933.5 1556.0 933.6C1557.3 933.7 1558.6 933.8 1559.9 933.9C1561.2 934.0 1562.6 934.1 1563.9 934.2C1565.2 934.3 1566.5 934.3 1567.9 934.4C1569.2 934.5 1570.5 934.6 1571.8 934.7C1573.1 934.8 1574.5 934.9 1575.8 934.9C1577.1 935.0 1578.4 935.1 1579.8 935.2C1581.1 935.3 1582.4 935.3 1583.7 935.4C1585.0 935.5 1586.4 935.6 1587.7 935.6C1589.0 935.7 1590.3 935.8 1591.7 935.9C1593.0 935.9 1594.3 936.0 1595.6 936.1C1596.9 936.1 1598.3 936.2 1599.6 936.3C1600.9 936.3 1602.2 936.4 1603.6 936.4C1604.9 936.5 1606.2 936.6 1607.5 936.6C1608.9 936.7 1610.2 936.7 1611.5 936.8C1612.8 936.8 1614.1 936.9 1615.5 936.9C1616.8 937.0 1618.1 937.0 1619.4 937.1C1620.8 937.1 1622.1 937.2 1623.4 937.2C1624.7 937.2 1626.1 937.3 1627.4 937.3C1628.7 937.4 1630.0 937.4 1631.3 937.4C1632.7 937.5 1634.0 937.5 1635.3 937.5C1636.6 937.6 1638.0 937.6 1639.3 937.6C1640.6 937.6 1641.9 937.7 1643.3 937.7C1644.6 937.7 1645.9 937.8 1647.2 937.8C1648.6 937.8 1649.9 937.9 1651.2 937.9C1652.5 937.9 1653.8 938.0 1655.2 938.0C1656.5 938.0 1657.8 938.0 1659.1 938.1C1660.5 938.1 1661.8 938.2 1663.1 938.2C1664.4 938.2 1665.8 938.3 1667.1 938.3C1668.4 938.3 1669.7 938.4 1671.1 938.4C1672.4 938.5 1673.7 938.5 1675.0 938.6C1676.4 938.6 1677.7 938.7 1679.0 938.7C1680.3 938.8 1681.7 938.8 1683.0 938.9C1684.3 939.0 1685.6 939.0 1687.0 939.1C1688.3 939.2 1689.6 939.2 1690.9 939.3C1692.3 939.4 1693.6 939.5 1694.9 939.6C1696.2 939.6 1697.6 939.7 1698.9 939.8C1700.2 939.9 1701.5 940.0 1702.9 940.1C1704.2 940.2 1705.5 940.3 1706.9 940.4C1708.2 940.5 1709.5 940.7 1710.8 940.8C1712.2 940.9 1713.5 941.0 1714.8 941.2C1716.1 941.3 1717.5 941.5 1718.8 941.6C1720.1 941.7 1721.4 941.9 1722.8 942.1C1724.1 942.2 1725.4 942.4 1726.8 942.6C1728.1 942.7 1729.4 942.9 1730.7 943.1C1732.1 943.3 1733.4 943.5 1734.7 943.7C1736.1 943.9 1737.4 944.1 1738.7 944.3C1740.0 944.5 1741.4 944.7 1742.7 944.9C1744.0 945.1 1745.3 945.3 1746.7 945.5C1748.0 945.7 1749.3 945.9 1750.7 946.1C1752.0 946.3 1753.3 946.5 1754.7 946.7C1756.0 947.0 1757.3 947.2 1758.6 947.4C1760.0 947.5 1761.3 947.7 1762.6 947.9C1764.0 948.1 1765.3 948.3 1766.6 948.5C1767.9 948.7 1769.3 948.8 1770.6 949.0C1771.9 949.2 1773.3 949.3 1774.6 949.5C1775.9 949.6 1777.3 949.8 1778.6 949.9C1779.9 950.1 1781.3 950.2 1782.6 950.3C1783.9 950.4 1785.2 950.5 1786.6 950.6C1787.9 950.7 1789.2 950.8 1790.6 950.9C1791.9 950.9 1793.2 951.0 1794.6 951.0C1795.9 951.1 1797.9 951.1 1798.6 951.1" stroke="#0a4ea6"/>
<path d="M412.0 270.4C412.7 270.6 414.7 271.1 416.1 271.5C417.5 271.8 418.8 272.2 420.2 272.5C421.5 272.8 422.9 273.1 424.3 273.5C425.6 273.8 427.0 274.1 428.3 274.4C429.7 274.7 431.0 275.0 432.3 275.3C433.7 275.6 435.0 275.9 436.4 276.1C437.7 276.4 439.1 276.7 440.4 277.0C441.7 277.3 443.1 277.5 444.4 277.8C445.7 278.1 447.0 278.4 448.4 278.6C449.7 278.9 451.0 279.2 452.3 279.4C453.7 279.7 455.0 280.0 456.3 280.2C457.6 280.5 458.9 280.7 460.2 281.0C461.5 281.3 462.8 281.5 464.1 281.8C465.4 282.1 466.7 282.3 468.0 282.6C469.3 282.9 470.6 283.2 471.9 283.4C473.2 283.7 474.5 284.0 475.8 284.3C477.0 284.5 478.3 284.8 479.6 285.1C480.9 285.4 482.1 285.7 483.4 286.0C484.7 286.3 485.9 286.6 487.2 286.9C488.5 287.2 489.7 287.5 491.0 287.9C492.2 288.2 493.5 288.5 494.7 288.8C496.0 289.2 497.2 289.5 498.5 289.9C499.7 290.2 500.9 290.6 502.2 290.9C503.4 291.3 504.6 291.7 505.8 292.1C507.1 292.5 508.3 292.9 509.5 293.3C510.7 293.7 511.9 294.1 513.1 294.5C514.3 294.9 515.5 295.4 516.7 295.8C517.9 296.3 519.1 296.7 520.3 297.2C521.5 297.7 522.7 298.2 523.9 298.7C525.0 299.2 526.2 299.7 527.4 300.2C528.6 300.8 529.7 301.3 530.9 301.9C532.0 302.4 533.2 303.0 534.3 303.6C535.5 304.2 536.6 304.8 537.8 305.4C538.9 306.0 540.1 306.6 541.2 307.2C542.3 307.9 543.4 308.5 544.6 309.2C545.7 309.9 546.8 310.5 547.9 311.2C549.0 311.9 550.1 312.6 551.2 313.3C552.3 314.0 553.4 314.7 554.5 315.5C555.6 316.2 556.7 317.0 557.8 317.7C558.8 318.5 559.9 319.2 561.0 320.0C562.0 320.8 563.1 321.6 564.1 322.4C565.2 323.2 566.3 324.0 567.3 324.8C568.3 325.7 569.4 326.5 570.4 327.3C571.4 328.2 572.5 329.0 573.5 329.9C574.5 330.8 575.5 331.6 576.5 332.5C577.5 333.4 578.5 334.3 579.5 335.2C580.5 336.1 581.5 337.0 582.5 337.9C583.5 338.8 584.4 339.7 585.4 340.7C586.4 341.6 587.3 342.5 588.3 343.5C589.3 344.4 590.2 345.4 591.1 346.3C592.1 347.3 593.0 348.3 594.0 349.3C594.9 350.2 595.8 351.2 596.7 352.2C597.6 353.2 598.5 354.2 599.4 355.2C600.4 356.2 601.2 357.2 602.1 358.2C603.0 359.3 603.9 360.3 604.8 361.3C605.7 362.3 606.5 363.4 607.4 364.4C608.2 365.5 609.1 366.5 609.9 367.6C610.8 368.6 611.6 369.7 612.4 370.7C613.3 371.8 614.1 372.9 614.9 373.9C615.7 375.0 616.5 376.1 617.3 377.2C618.1 378.2 618.9 379.3 619.7 380.4C620.5 381.5 621.3 382.6 622.1 383.7C622.8 384.8 623.6 385.9 624.3 387.0C625.1 388.1 625.8 389.2 626.6 390.3C627.3 391.4 628.1 392.5 628.8 393.6C629.5 394.8 630.3 395.9 631.0 397.0C631.7 398.1 632.4 399.3 633.1 400.4C633.8 401.5 634.5 402.7 635.2 403.8C635.9 404.9 636.6 406.1 637.2 407.2C637.9 408.4 638.6 409.5 639.2 410.7C639.9 411.8 640.6 413.0 641.2 414.2C641.9 415.3 642.5 416.5 643.2 417.7C643.8 418.8 644.4 420.0 645.1 421.2C645.7 422.3 646.3 423.5 646.9 424.7C647.6 425.9 648.2 427.0 648.8 428.2C649.4 429.4 650.0 430.6 650.6 431.8C651.2 433.0 651.8 434.2 652.4 435.4C652.9 436.6 653.5 437.8 654.1 439.0C654.7 440.2 655.3 441.4 655.8 442.6C656.4 443.8 656.9 445.0 657.5 446.2C658.1 447.4 658.6 448.6 659.2 449.8C659.7 451.1 660.3 452.3 660.8 453.5C661.3 454.7 661.9 455.9 662.4 457.2C662.9 458.4 663.5 459.6 664.0 460.8C664.5 462.1 665.0 463.3 665.5 464.5C666.1 465.8 666.6 467.0 667.1 468.2C667.6 469.5 668.1 470.7 668.6 472.0C669.1 473.2 669.6 474.4 670.1 475.7C670.6 476.9 671.1 478.2 671.5 479.4C672.0 480.7 672.5 481.9 673.0 483.2C673.5 484.4 673.9 485.7 674.4 486.9C674.9 488.2 675.4 489.4 675.8 490.7C676.3 491.9 676.8 493.2 677.2 494.4C677.7 495.7 678.1 497.0 678.6 498.2C679.0 499.5 679.5 500.7 679.9 502.0C680.4 503.3 680.8 504.5 681.3 505.8C681.7 507.1 682.2 508.3 682.6 509.6C683.1 510.9 683.5 512.1 683.9 513.4C684.4 514.7 684.8 515.9 685.2 517.2C685.7 518.5 686.1 519.7 686.5 521.0C687.0 522.3 687.4 523.5 687.8 524.8C688.2 526.1 688.7 527.4 689.1 528.6C689.5 529.9 689.9 531.2 690.3 532.5C690.8 533.7 691.2 535.0 691.6 536.3C692.0 537.5 692.4 538.8 692.8 540.1C693.3 541.4 693.7 542.6 694.1 543.9C694.5 545.2 694.9 546.5 695.3 547.7C695.7 549.0 696.1 550.3 696.6 551.6C697.0 552.8 697.4 554.1 697.8 555.4C698.2 556.7 698.6 557.9 699.0 559.2C699.4 560.5 699.8 561.8 700.2 563.0C700.6 564.3 701.0 565.6 701.4 566.8C701.9 568.1 702.3 569.4 702.7 570.7C703.1 571.9 703.5 573.2 703.9 574.5C704.3 575.7 704.7 577.0 705.1 578.3C705.5 579.5 705.9 580.8 706.3 582.1C706.7 583.3 707.1 584.6 707.6 585.9C708.0 587.1 708.4 588.4 708.8 589.7C709.2 590.9 709.6 592.2 710.0 593.4C710.4 594.7 710.8 596.0 711.3 597.2C711.7 598.5 712.1 599.7 712.5 601.0C712.9 602.2 713.3 603.5 713.8 604.7C714.2 606.0 714.6 607.3 715.0 608.5C715.4 609.8 715.9 611.0 716.3 612.2C716.7 613.5 717.1 614.7 717.6 616.0C718.0 617.2 718.4 618.5 718.9 619.7C719.3 621.0 719.7 622.2 720.2 623.4C720.6 624.7 721.0 625.9 721.5 627.2C721.9 628.4 722.4 629.6 722.8 630.9C723.2 632.1 723.7 633.3 724.1 634.6C724.6 635.8 725.0 637.0 725.5 638.2C726.0 639.5 726.4 640.7 726.9 641.9C727.3 643.2 727.8 644.4 728.3 645.6C728.7 646.8 729.2 648.1 729.7 649.3C730.2 650.5 730.6 651.7 731.1 652.9C731.6 654.2 732.1 655.4 732.6 656.6C733.0 657.8 733.5 659.0 734.0 660.2C734.5 661.5 735.0 662.7 735.5 663.9C736.0 665.1 736.5 666.3 737.0 667.5C737.5 668.7 738.0 669.9 738.6 671.2C739.1 672.4 739.6 673.6 740.1 674.8C740.6 676.0 741.2 677.2 741.7 678.4C742.2 679.6 742.8 680.8 743.3 682.0C743.8 683.2 744.4 684.4 744.9 685.6C745.5 686.8 746.0 688.0 746.6 689.2C747.2 690.4 747.7 691.6 748.3 692.8C748.9 694.0 749.4 695.2 750.0 696.4C750.6 697.6 751.2 698.8 751.8 700.0C752.4 701.2 752.9 702.4 753.5 703.5C754.1 704.7 754.8 705.9 755.4 707.1C756.0 708.3 756.6 709.5 757.2 710.7C757.8 711.9 758.5 713.0 759.1 714.2C759.7 715.4 760.4 716.6 761.0 717.8C761.7 719.0 762.3 720.2 763.0 721.3C763.6 722.5 764.3 723.7 764.9 724.9C765.6 726.1 766.3 727.2 767.0 728.4C767.7 729.6 768.3 730.8 769.0 731.9C769.7 733.1 770.4 734.3 771.1 735.4C771.8 736.6 772.5 737.8 773.3 738.9C774.0 740.1 774.7 741.3 775.4 742.4C776.2 743.6 776.9 744.7 777.6 745.9C778.4 747.0 779.1 748.2 779.9 749.3C780.6 750.5 781.4 751.6 782.2 752.8C782.9 753.9 783.7 755.0 784.5 756.2C785.2 757.3 786.0 758.4 786.8 759.5C787.6 760.6 788.4 761.8 789.2 762.9C790.0 764.0 790.8 765.1 791.6 766.2C792.4 767.3 793.3 768.4 794.1 769.5C794.9 770.6 795.8 771.6 796.6 772.7C797.4 773.8 798.3 774.9 799.1 775.9C800.0 777.0 800.8 778.1 801.7 779.1C802.6 780.2 803.4 781.2 804.3 782.2C805.2 783.3 806.1 784.3 807.0 785.3C807.8 786.4 808.7 787.4 809.6 788.4C810.5 789.4 811.4 790.4 812.4 791.4C813.3 792.4 814.2 793.4 815.1 794.4C816.0 795.3 817.0 796.3 817.9 797.3C818.8 798.2 819.8 799.2 820.7 800.1C821.7 801.1 822.6 802.0 823.6 802.9C824.6 803.9 825.5 804.8 826.5 805.7C827.5 806.6 828.5 807.5 829.5 808.4C830.5 809.3 831.4 810.2 832.4 811.0C833.4 811.9 834.5 812.7 835.5 813.6C836.5 814.4 837.5 815.3 838.5 816.1C839.5 816.9 840.6 817.7 841.6 818.6C842.7 819.4 843.7 820.1 844.8 820.9C845.8 821.7 846.9 822.5 847.9 823.2C849.0 824.0 850.1 824.7 851.1 825.5C852.2 826.2 853.3 826.9 854.4 827.6C855.5 828.4 856.6 829.0 857.7 829.7C858.8 830.4 859.9 831.1 861.0 831.8C862.1 832.4 863.2 833.1 864.3 833.7C865.5 834.3 866.6 835.0 867.7 835.6C868.9 836.2 870.0 836.8 871.2 837.4C872.3 838.0 873.5 838.6 874.6 839.1C875.8 839.7 876.9 840.2 878.1 840.8C879.3 841.3 880.4 841.9 881.6 842.4C882.8 842.9 884.0 843.4 885.2 843.9C886.4 844.4 887.6 844.9 888.8 845.4C889.9 845.9 891.2 846.4 892.4 846.8C893.6 847.3 894.8 847.7 896.0 848.2C897.2 848.6 898.4 849.0 899.6 849.5C900.9 849.9 902.1 850.3 903.3 850.7C904.6 851.1 905.8 851.5 907.0 851.9C908.3 852.3 909.5 852.6 910.8 853.0C912.0 853.3 913.3 853.7 914.5 854.0C915.8 854.4 917.0 854.7 918.3 855.0C919.6 855.4 920.8 855.7 922.1 856.0C923.4 856.3 924.6 856.6 925.9 856.9C927.2 857.2 928.4 857.5 929.7 857.7C931.0 858.0 932.3 858.3 933.6 858.5C934.9 858.8 936.1 859.0 937.4 859.3C938.7 859.5 940.0 859.7 941.3 860.0C942.6 860.2 943.9 860.4 945.2 860.6C946.5 860.8 947.8 861.0 949.1 861.2C950.4 861.4 951.7 861.6 953.0 861.8C954.3 861.9 955.6 862.1 957.0 862.3C958.3 862.4 959.6 862.6 960.9 862.8C962.2 862.9 963.5 863.1 964.8 863.2C966.2 863.3 967.5 863.5 968.8 863.6C970.1 863.7 971.5 863.9 972.8 864.0C974.1 864.1 975.4 864.2 976.8 864.3C978.1 864.4 979.4 864.5 980.8 864.6C982.1 864.7 983.4 864.8 984.8 864.9C986.1 865.0 987.4 865.0 988.8 865.1C990.1 865.2 991.4 865.3 992.8 865.3C994.1 865.4 995.5 865.5 996.8 865.5C998.1 865.6 999.5 865.7 1000.8 865.7C1002.2 865.8 1003.5 865.8 1004.9 865.9C1006.2 865.9 1007.5 865.9 1008.9 866.0C1010.2 866.0 1011.6 866.1 1012.9 866.1C1014.3 866.1 1015.6 866.2 1017.0 866.2C1018.3 866.2 1019.6 866.2 1021.0 866.3C1022.3 866.3 1023.7 866.3 1025.0 866.3C1026.4 866.4 1027.7 866.4 1029.1 866.4C1030.4 866.4 1031.8 866.4 1033.1 866.4C1034.5 866.4 1035.8 866.5 1037.2 866.5C1038.5 866.5 1039.8 866.5 1041.2 866.5C1042.5 866.5 1043.9 866.5 1045.2 866.5C1046.6 866.5 1047.9 866.5 1049.3 866.5C1050.6 866.6 1051.9 866.6 1053.3 866.6C1054.6 866.6 1056.0 866.6 1057.3 866.6C1058.7 866.6 1060.0 866.6 1061.3 866.6C1062.7 866.6 1064.0 866.6 1065.4 866.6C1066.7 866.6 1068.0 866.6 1069.4 866.6C1070.7 866.6 1072.0 866.6 1073.4 866.6C1074.7 866.6 1076.1 866.6 1077.4 866.6C1078.7 866.5 1080.1 866.5 1081.4 866.5C1082.7 866.5 1084.1 866.5 1085.4 866.5C1086.8 866.5 1088.1 866.5 1089.4 866.5C1090.8 866.5 1092.1 866.4 1093.4 866.4C1094.8 866.4 1096.1 866.4 1097.4 866.4C1098.8 866.3 1100.1 866.3 1101.4 866.3C1102.8 866.3 1104.1 866.2 1105.4 866.2C1106.8 866.2 1108.1 866.1 1109.4 866.1C1110.8 866.1 1112.1 866.0 1113.4 866.0C1114.7 865.9 1116.1 865.9 1117.4 865.8C1118.7 865.8 1120.1 865.7 1121.4 865.7C1122.7 865.6 1124.1 865.6 1125.4 865.5C1126.7 865.4 1128.0 865.4 1129.4 865.3C1130.7 865.2 1132.0 865.2 1133.4 865.1C1134.7 865.0 1136.0 865.0 1137.3 864.9C1138.7 864.8 1140.0 864.8 1141.3 864.7C1142.7 864.6 1144.0 864.5 1145.3 864.5C1146.6 864.4 1148.0 864.3 1149.3 864.2C1150.6 864.2 1151.9 864.1 1153.3 864.0C1154.6 863.9 1155.9 863.9 1157.2 863.8C1158.6 863.7 1159.9 863.6 1161.2 863.5C1162.6 863.5 1163.9 863.4 1165.2 863.3C1166.5 863.2 1167.9 863.2 1169.2 863.1C1170.5 863.0 1171.8 863.0 1173.2 862.9C1174.5 862.8 1175.8 862.8 1177.1 862.7C1178.5 862.6 1179.8 862.6 1181.1 862.5C1182.4 862.5 1183.7 862.4 1185.1 862.4C1186.4 862.3 1187.7 862.3 1189.0 862.2C1190.4 862.2 1191.7 862.1 1193.0 862.1C1194.3 862.1 1195.7 862.1 1197.0 862.0C1198.3 862.0 1199.6 862.0 1201.0 862.0C1202.3 862.0 1203.6 862.0 1204.9 862.0C1206.2 862.0 1207.6 862.0 1208.9 862.0C1210.2 862.0 1211.5 862.0 1212.9 862.0C1214.2 862.0 1215.5 862.1 1216.8 862.1C1218.2 862.1 1219.5 862.2 1220.8 862.2C1222.1 862.3 1223.4 862.3 1224.8 862.3C1226.1 862.4 1227.4 862.4 1228.7 862.5C1230.1 862.5 1231.4 862.6 1232.7 862.6C1234.0 862.7 1235.4 862.8 1236.7 862.8C1238.0 862.9 1239.3 862.9 1240.6 863.0C1242.0 863.0 1243.3 863.1 1244.6 863.1C1245.9 863.2 1247.3 863.2 1248.6 863.2C1249.9 863.3 1251.2 863.3 1252.6 863.4C1253.9 863.4 1255.2 863.4 1256.5 863.4C1257.9 863.5 1259.2 863.5 1260.5 863.5C1261.8 863.5 1263.2 863.5 1264.5 863.5C1265.8 863.5 1267.1 863.5 1268.5 863.5C1269.8 863.5 1271.1 863.5 1272.4 863.5C1273.7 863.4 1275.1 863.4 1276.4 863.4C1277.7 863.4 1279.0 863.3 1280.4 863.3C1281.7 863.3 1283.0 863.2 1284.4 863.2C1285.7 863.1 1287.0 863.1 1288.3 863.1C1289.7 863.0 1291.0 863.0 1292.3 862.9C1293.6 862.8 1295.0 862.8 1296.3 862.7C1297.6 862.7 1298.9 862.6 1300.3 862.5C1301.6 862.5 1302.9 862.4 1304.2 862.4C1305.6 862.3 1306.9 862.2 1308.2 862.2C1309.5 862.1 1310.9 862.0 1312.2 862.0C1313.5 861.9 1314.9 861.8 1316.2 861.7C1317.5 861.7 1318.8 861.6 1320.2 861.5C1321.5 861.5 1322.8 861.4 1324.1 861.3C1325.5 861.3 1326.8 861.2 1328.1 861.1C1329.5 861.1 1330.8 861.0 1332.1 860.9C1333.4 860.9 1334.8 860.8 1336.1 860.8C1337.4 860.7 1338.7 860.7 1340.1 860.6C1341.4 860.5 1342.7 860.5 1344.1 860.4C1345.4 860.4 1346.7 860.4 1348.0 860.3C1349.4 860.3 1350.7 860.2 1352.0 860.2C1353.4 860.2 1354.7 860.1 1356.0 860.1C1357.3 860.1 1358.7 860.0 1360.0 860.0C1361.3 860.0 1362.7 859.9 1364.0 859.9C1365.3 859.9 1366.6 859.9 1368.0 859.9C1369.3 859.8 1370.6 859.8 1372.0 859.8C1373.3 859.8 1374.6 859.8 1375.9 859.8C1377.3 859.8 1378.6 859.7 1379.9 859.7C1381.3 859.7 1382.6 859.7 1383.9 859.7C1385.2 859.7 1386.6 859.7 1387.9 859.7C1389.2 859.7 1390.6 859.7 1391.9 859.7C1393.2 859.7 1394.5 859.7 1395.9 859.7C1397.2 859.7 1398.5 859.7 1399.9 859.7C1401.2 859.7 1402.5 859.7 1403.9 859.7C1405.2 859.7 1406.5 859.7 1407.8 859.7C1409.2 859.7 1410.5 859.7 1411.8 859.7C1413.2 859.7 1414.5 859.7 1415.8 859.7C1417.2 859.7 1418.5 859.7 1419.8 859.7C1421.1 859.7 1422.5 859.7 1423.8 859.7C1425.1 859.7 1426.5 859.7 1427.8 859.7C1429.1 859.7 1430.5 859.7 1431.8 859.7C1433.1 859.7 1434.4 859.7 1435.8 859.7C1437.1 859.7 1438.4 859.7 1439.8 859.7C1441.1 859.7 1442.4 859.7 1443.8 859.7C1445.1 859.7 1446.4 859.7 1447.8 859.7C1449.1 859.7 1450.4 859.7 1451.7 859.7C1453.1 859.7 1454.4 859.7 1455.7 859.7C1457.1 859.7 1458.4 859.7 1459.7 859.7C1461.1 859.7 1462.4 859.7 1463.7 859.6C1465.1 859.6 1466.4 859.6 1467.7 859.6C1469.0 859.6 1470.4 859.6 1471.7 859.6C1473.0 859.6 1474.4 859.6 1475.7 859.6C1477.0 859.5 1478.4 859.5 1479.7 859.5C1481.0 859.5 1482.4 859.5 1483.7 859.5C1485.0 859.4 1486.3 859.4 1487.7 859.4C1489.0 859.4 1490.3 859.4 1491.7 859.3C1493.0 859.3 1494.3 859.3 1495.7 859.3C1497.0 859.3 1498.3 859.2 1499.7 859.2C1501.0 859.2 1502.3 859.2 1503.6 859.1C1505.0 859.1 1506.3 859.1 1507.6 859.0C1509.0 859.0 1510.3 859.0 1511.6 858.9C1513.0 858.9 1514.3 858.9 1515.6 858.8C1517.0 858.8 1518.3 858.8 1519.6 858.7C1521.0 858.7 1522.3 858.6 1523.6 858.6C1524.9 858.6 1526.3 858.5 1527.6 858.5C1528.9 858.4 1530.3 858.4 1531.6 858.3C1532.9 858.3 1534.3 858.2 1535.6 858.2C1536.9 858.1 1538.3 858.1 1539.6 858.0C1540.9 858.0 1542.2 857.9 1543.6 857.9C1544.9 857.8 1546.2 857.7 1547.6 857.7C1548.9 857.6 1550.2 857.6 1551.6 857.5C1552.9 857.5 1554.2 857.4 1555.6 857.3C1556.9 857.3 1558.2 857.2 1559.5 857.2C1560.9 857.1 1562.2 857.0 1563.5 857.0C1564.9 856.9 1566.2 856.9 1567.5 856.8C1568.9 856.7 1570.2 856.7 1571.5 856.6C1572.9 856.6 1574.2 856.5 1575.5 856.4C1576.8 856.4 1578.2 856.3 1579.5 856.2C1580.8 856.2 1582.2 856.1 1583.5 856.1C1584.8 856.0 1586.2 855.9 1587.5 855.9C1588.8 855.8 1590.1 855.8 1591.5 855.7C1592.8 855.7 1594.1 855.6 1595.5 855.5C1596.8 855.5 1598.1 855.4 1599.5 855.4C1600.8 855.3 1602.1 855.3 1603.5 855.2C1604.8 855.2 1606.1 855.1 1607.4 855.1C1608.8 855.0 1610.1 855.0 1611.4 854.9C1612.8 854.9 1614.1 854.8 1615.4 854.8C1616.8 854.7 1618.1 854.7 1619.4 854.7C1620.7 854.6 1622.1 854.6 1623.4 854.5C1624.7 854.5 1626.1 854.5 1627.4 854.4C1628.7 854.4 1630.0 854.4 1631.4 854.4C1632.7 854.3 1634.0 854.3 1635.4 854.3C1636.7 854.3 1638.0 854.2 1639.4 854.2C1640.7 854.2 1642.0 854.2 1643.3 854.2C1644.7 854.2 1646.0 854.2 1647.3 854.2C1648.7 854.2 1650.0 854.2 1651.3 854.2C1652.6 854.2 1654.0 854.2 1655.3 854.2C1656.6 854.3 1658.0 854.3 1659.3 854.3C1660.6 854.3 1661.9 854.4 1663.3 854.4C1664.6 854.4 1665.9 854.5 1667.3 854.5C1668.6 854.6 1669.9 854.6 1671.2 854.7C1672.6 854.7 1673.9 854.8 1675.2 854.9C1676.6 854.9 1677.9 855.0 1679.2 855.1C1680.5 855.1 1681.9 855.2 1683.2 855.3C1684.5 855.4 1685.8 855.5 1687.2 855.6C1688.5 855.7 1689.8 855.8 1691.2 855.9C1692.5 856.0 1693.8 856.1 1695.1 856.2C1696.5 856.3 1697.8 856.4 1699.1 856.5C1700.4 856.6 1701.8 856.7 1703.1 856.8C1704.4 857.0 1705.8 857.1 1707.1 857.2C1708.4 857.3 1709.7 857.4 1711.1 857.6C1712.4 857.7 1713.7 857.8 1715.0 858.0C1716.4 858.1 1717.7 858.2 1719.0 858.4C1720.3 858.5 1721.7 858.6 1723.0 858.8C1724.3 858.9 1725.7 859.0 1727.0 859.2C1728.3 859.3 1729.6 859.4 1731.0 859.6C1732.3 859.7 1733.6 859.9 1734.9 860.0C1736.3 860.1 1737.6 860.3 1738.9 860.4C1740.2 860.6 1741.6 860.7 1742.9 860.8C1744.2 861.0 1745.5 861.1 1746.9 861.3C1748.2 861.4 1749.5 861.5 1750.8 861.7C1752.2 861.8 1753.5 861.9 1754.8 862.1C1756.1 862.2 1757.5 862.3 1758.8 862.5C1760.1 862.6 1761.4 862.7 1762.8 862.8C1764.1 863.0 1765.4 863.1 1766.7 863.2C1768.1 863.3 1769.4 863.4 1770.7 863.6C1772.0 863.7 1773.3 863.8 1774.7 863.9C1776.0 864.0 1777.3 864.1 1778.6 864.2C1780.0 864.3 1781.3 864.4 1782.6 864.5C1783.9 864.6 1785.3 864.7 1786.6 864.8C1787.9 864.9 1789.2 865.0 1790.5 865.1C1791.9 865.1 1793.2 865.2 1794.5 865.3C1795.8 865.4 1797.8 865.5 1798.5 865.5" stroke="#158a36"/>
<path d="M418.8 276.1C419.5 276.2 421.5 276.7 422.8 276.9C424.1 277.2 425.5 277.5 426.8 277.8C428.1 278.1 429.5 278.3 430.8 278.6C432.1 278.9 433.5 279.2 434.8 279.4C436.1 279.7 437.5 280.0 438.8 280.3C440.2 280.5 441.5 280.8 442.8 281.1C444.2 281.3 445.5 281.6 446.8 281.9C448.1 282.2 449.5 282.4 450.8 282.7C452.1 283.0 453.5 283.3 454.8 283.6C456.1 283.8 457.5 284.1 458.8 284.4C460.1 284.7 461.4 285.0 462.8 285.3C464.1 285.5 465.4 285.8 466.7 286.1C468.0 286.4 469.4 286.7 470.7 287.0C472.0 287.3 473.3 287.6 474.6 287.9C475.9 288.2 477.3 288.5 478.6 288.8C479.9 289.2 481.2 289.5 482.5 289.8C483.8 290.1 485.1 290.4 486.4 290.8C487.7 291.1 489.0 291.4 490.3 291.8C491.6 292.1 492.9 292.5 494.2 292.8C495.5 293.2 496.7 293.5 498.0 293.9C499.3 294.3 500.6 294.6 501.9 295.0C503.2 295.4 504.4 295.8 505.7 296.2C507.0 296.6 508.2 297.0 509.5 297.4C510.8 297.8 512.0 298.2 513.3 298.6C514.5 299.0 515.8 299.4 517.0 299.9C518.3 300.3 519.5 300.8 520.8 301.2C522.0 301.7 523.2 302.1 524.5 302.6C525.7 303.1 526.9 303.6 528.2 304.0C529.4 304.5 530.6 305.0 531.8 305.5C533.0 306.0 534.2 306.5 535.4 307.1C536.7 307.6 537.9 308.1 539.0 308.6C540.2 309.2 541.4 309.7 542.6 310.3C543.8 310.8 545.0 311.4 546.1 312.0C547.3 312.5 548.5 313.1 549.7 313.7C550.8 314.3 552.0 314.9 553.1 315.5C554.3 316.1 555.4 316.7 556.6 317.3C557.7 318.0 558.8 318.6 560.0 319.2C561.1 319.9 562.2 320.5 563.3 321.2C564.4 321.8 565.5 322.5 566.6 323.2C567.7 323.8 568.8 324.5 569.9 325.2C571.0 325.9 572.1 326.6 573.2 327.3C574.2 328.0 575.3 328.7 576.4 329.5C577.4 330.2 578.5 330.9 579.5 331.7C580.6 332.4 581.6 333.2 582.6 333.9C583.7 334.7 584.7 335.4 585.7 336.2C586.7 337.0 587.7 337.8 588.7 338.6C589.7 339.4 590.7 340.2 591.7 341.0C592.7 341.8 593.7 342.6 594.7 343.5C595.6 344.3 596.6 345.1 597.5 346.0C598.5 346.8 599.4 347.7 600.4 348.6C601.3 349.4 602.2 350.3 603.1 351.2C604.1 352.1 605.0 353.0 605.9 353.9C606.8 354.8 607.7 355.7 608.6 356.6C609.5 357.5 610.3 358.4 611.2 359.4C612.1 360.3 612.9 361.3 613.8 362.2C614.7 363.2 615.5 364.1 616.4 365.1C617.2 366.0 618.0 367.0 618.9 368.0C619.7 369.0 620.5 370.0 621.3 371.0C622.1 371.9 622.9 373.0 623.8 374.0C624.6 375.0 625.3 376.0 626.1 377.0C626.9 378.0 627.7 379.1 628.5 380.1C629.3 381.1 630.0 382.2 630.8 383.2C631.6 384.3 632.3 385.3 633.1 386.4C633.8 387.4 634.6 388.5 635.3 389.6C636.0 390.7 636.8 391.7 637.5 392.8C638.2 393.9 638.9 395.0 639.7 396.1C640.4 397.2 641.1 398.3 641.8 399.4C642.5 400.5 643.2 401.6 643.9 402.7C644.6 403.9 645.3 405.0 646.0 406.1C646.7 407.2 647.3 408.4 648.0 409.5C648.7 410.7 649.4 411.8 650.0 412.9C650.7 414.1 651.4 415.2 652.0 416.4C652.7 417.6 653.3 418.7 654.0 419.9C654.6 421.1 655.3 422.2 655.9 423.4C656.5 424.6 657.2 425.8 657.8 426.9C658.4 428.1 659.1 429.3 659.7 430.5C660.3 431.7 660.9 432.9 661.5 434.1C662.2 435.3 662.8 436.5 663.4 437.7C664.0 438.9 664.6 440.1 665.2 441.3C665.8 442.5 666.4 443.7 667.0 444.9C667.6 446.2 668.2 447.4 668.8 448.6C669.4 449.8 670.0 451.0 670.5 452.3C671.1 453.5 671.7 454.7 672.3 456.0C672.9 457.2 673.4 458.4 674.0 459.7C674.6 460.9 675.2 462.1 675.7 463.4C676.3 464.6 676.9 465.9 677.4 467.1C678.0 468.4 678.6 469.6 679.1 470.8C679.7 472.1 680.3 473.3 680.8 474.6C681.4 475.8 681.9 477.1 682.5 478.4C683.0 479.6 683.6 480.9 684.1 482.1C684.7 483.4 685.2 484.6 685.8 485.9C686.3 487.1 686.9 488.4 687.4 489.7C688.0 490.9 688.5 492.2 689.1 493.4C689.6 494.7 690.2 496.0 690.7 497.2C691.2 498.5 691.8 499.7 692.3 501.0C692.9 502.3 693.4 503.5 693.9 504.8C694.5 506.0 695.0 507.3 695.6 508.6C696.1 509.8 696.6 511.1 697.2 512.3C697.7 513.6 698.3 514.8 698.8 516.1C699.3 517.4 699.9 518.6 700.4 519.9C701.0 521.1 701.5 522.4 702.0 523.6C702.6 524.9 703.1 526.1 703.7 527.4C704.2 528.6 704.7 529.9 705.3 531.1C705.8 532.4 706.4 533.6 706.9 534.9C707.5 536.1 708.0 537.4 708.6 538.6C709.1 539.9 709.7 541.1 710.2 542.3C710.8 543.6 711.3 544.8 711.9 546.1C712.4 547.3 713.0 548.5 713.5 549.8C714.1 551.0 714.6 552.2 715.2 553.4C715.8 554.7 716.3 555.9 716.9 557.1C717.4 558.3 718.0 559.6 718.6 560.8C719.1 562.0 719.7 563.2 720.3 564.4C720.9 565.7 721.4 566.9 722.0 568.1C722.6 569.3 723.2 570.5 723.8 571.7C724.3 572.9 724.9 574.1 725.5 575.3C726.1 576.5 726.7 577.7 727.3 578.9C727.9 580.1 728.5 581.3 729.1 582.5C729.7 583.7 730.3 584.9 730.9 586.1C731.5 587.2 732.1 588.4 732.7 589.6C733.4 590.8 734.0 591.9 734.6 593.1C735.2 594.3 735.8 595.5 736.5 596.6C737.1 597.8 737.7 599.0 738.4 600.1C739.0 601.3 739.7 602.4 740.3 603.6C741.0 604.7 741.6 605.9 742.3 607.0C742.9 608.2 743.6 609.3 744.3 610.4C744.9 611.6 745.6 612.7 746.3 613.8C747.0 615.0 747.6 616.1 748.3 617.2C749.0 618.4 749.7 619.5 750.4 620.6C751.1 621.7 751.8 622.8 752.5 623.9C753.2 625.0 753.9 626.1 754.6 627.2C755.4 628.3 756.1 629.4 756.8 630.5C757.6 631.6 758.3 632.7 759.0 633.8C759.8 634.8 760.5 635.9 761.3 637.0C762.0 638.1 762.8 639.1 763.6 640.2C764.3 641.3 765.1 642.3 765.9 643.4C766.7 644.4 767.5 645.5 768.3 646.5C769.0 647.6 769.8 648.6 770.7 649.6C771.5 650.7 772.3 651.7 773.1 652.7C773.9 653.7 774.8 654.8 775.6 655.8C776.4 656.8 777.3 657.8 778.1 658.8C779.0 659.8 779.8 660.8 780.7 661.8C781.5 662.8 782.4 663.8 783.3 664.8C784.2 665.7 785.0 666.7 785.9 667.7C786.8 668.7 787.7 669.6 788.6 670.6C789.5 671.5 790.4 672.5 791.3 673.4C792.2 674.4 793.2 675.3 794.1 676.3C795.0 677.2 795.9 678.1 796.9 679.1C797.8 680.0 798.8 680.9 799.7 681.8C800.7 682.7 801.6 683.6 802.6 684.5C803.5 685.4 804.5 686.3 805.5 687.2C806.5 688.1 807.4 689.0 808.4 689.9C809.4 690.7 810.4 691.6 811.4 692.5C812.4 693.3 813.4 694.2 814.4 695.0C815.4 695.9 816.5 696.7 817.5 697.6C818.5 698.4 819.5 699.2 820.6 700.0C821.6 700.9 822.6 701.7 823.7 702.5C824.7 703.3 825.8 704.1 826.8 704.9C827.9 705.7 829.0 706.5 830.0 707.3C831.1 708.0 832.2 708.8 833.2 709.6C834.3 710.3 835.4 711.1 836.5 711.8C837.6 712.6 838.7 713.3 839.8 714.1C840.9 714.8 842.0 715.5 843.1 716.3C844.2 717.0 845.3 717.7 846.5 718.4C847.6 719.1 848.7 719.8 849.8 720.5C851.0 721.2 852.1 721.9 853.3 722.5C854.4 723.2 855.6 723.9 856.7 724.5C857.9 725.2 859.0 725.8 860.2 726.5C861.3 727.1 862.5 727.8 863.7 728.4C864.9 729.0 866.0 729.6 867.2 730.2C868.4 730.9 869.6 731.5 870.8 732.1C872.0 732.6 873.2 733.2 874.4 733.8C875.6 734.4 876.8 735.0 878.0 735.5C879.2 736.1 880.4 736.7 881.6 737.2C882.8 737.8 884.1 738.3 885.3 738.8C886.5 739.4 887.7 739.9 889.0 740.4C890.2 740.9 891.4 741.5 892.7 742.0C893.9 742.5 895.2 743.0 896.4 743.5C897.6 743.9 898.9 744.4 900.1 744.9C901.4 745.4 902.6 745.8 903.9 746.3C905.2 746.8 906.4 747.2 907.7 747.7C908.9 748.1 910.2 748.5 911.5 749.0C912.7 749.4 914.0 749.8 915.3 750.3C916.6 750.7 917.8 751.1 919.1 751.5C920.4 751.9 921.7 752.3 922.9 752.7C924.2 753.1 925.5 753.4 926.8 753.8C928.1 754.2 929.4 754.5 930.6 754.9C931.9 755.3 933.2 755.6 934.5 756.0C935.8 756.3 937.1 756.6 938.4 757.0C939.7 757.3 941.0 757.6 942.3 758.0C943.6 758.3 944.9 758.6 946.2 758.9C947.5 759.2 948.8 759.5 950.1 759.8C951.4 760.1 952.7 760.3 954.0 760.6C955.3 760.9 956.6 761.2 957.9 761.4C959.2 761.7 960.5 762.0 961.8 762.2C963.1 762.5 964.4 762.7 965.7 762.9C967.0 763.2 968.3 763.4 969.6 763.6C970.9 763.8 972.2 764.1 973.5 764.3C974.8 764.5 976.1 764.7 977.4 764.9C978.8 765.1 980.1 765.3 981.4 765.5C982.7 765.7 984.0 765.9 985.3 766.0C986.6 766.2 987.9 766.4 989.2 766.5C990.5 766.7 991.8 766.9 993.2 767.0C994.5 767.2 995.8 767.3 997.1 767.5C998.4 767.6 999.7 767.8 1001.0 767.9C1002.3 768.1 1003.7 768.2 1005.0 768.3C1006.3 768.5 1007.6 768.6 1008.9 768.7C1010.2 768.8 1011.5 768.9 1012.9 769.1C1014.2 769.2 1015.5 769.3 1016.8 769.4C1018.1 769.5 1019.4 769.6 1020.8 769.7C1022.1 769.8 1023.4 769.9 1024.7 770.0C1026.0 770.1 1027.3 770.1 1028.7 770.2C1030.0 770.3 1031.3 770.4 1032.6 770.5C1033.9 770.6 1035.3 770.6 1036.6 770.7C1037.9 770.8 1039.2 770.8 1040.5 770.9C1041.9 771.0 1043.2 771.0 1044.5 771.1C1045.8 771.2 1047.1 771.2 1048.5 771.3C1049.8 771.3 1051.1 771.4 1052.4 771.5C1053.8 771.5 1055.1 771.6 1056.4 771.6C1057.7 771.7 1059.1 771.7 1060.4 771.8C1061.7 771.8 1063.0 771.8 1064.3 771.9C1065.7 771.9 1067.0 772.0 1068.3 772.0C1069.6 772.0 1071.0 772.1 1072.3 772.1C1073.6 772.2 1075.0 772.2 1076.3 772.2C1077.6 772.3 1078.9 772.3 1080.3 772.3C1081.6 772.4 1082.9 772.4 1084.2 772.4C1085.6 772.5 1086.9 772.5 1088.2 772.5C1089.6 772.6 1090.9 772.6 1092.2 772.6C1093.5 772.7 1094.9 772.7 1096.2 772.7C1097.5 772.7 1098.9 772.8 1100.2 772.8C1101.5 772.8 1102.8 772.8 1104.2 772.9C1105.5 772.9 1106.8 772.9 1108.2 772.9C1109.5 773.0 1110.8 773.0 1112.2 773.0C1113.5 773.0 1114.8 773.0 1116.2 773.0C1117.5 773.1 1118.8 773.1 1120.1 773.1C1121.5 773.1 1122.8 773.1 1124.1 773.1C1125.5 773.2 1126.8 773.2 1128.1 773.2C1129.5 773.2 1130.8 773.2 1132.1 773.2C1133.5 773.2 1134.8 773.2 1136.1 773.2C1137.5 773.2 1138.8 773.2 1140.1 773.3C1141.5 773.3 1142.8 773.3 1144.1 773.3C1145.5 773.3 1146.8 773.3 1148.1 773.3C1149.5 773.3 1150.8 773.3 1152.1 773.3C1153.5 773.3 1154.8 773.3 1156.1 773.3C1157.5 773.3 1158.8 773.3 1160.1 773.3C1161.5 773.2 1162.8 773.2 1164.1 773.2C1165.5 773.2 1166.8 773.2 1168.2 773.2C1169.5 773.2 1170.8 773.2 1172.2 773.2C1173.5 773.2 1174.8 773.1 1176.2 773.1C1177.5 773.1 1178.8 773.1 1180.2 773.1C1181.5 773.1 1182.8 773.1 1184.2 773.0C1185.5 773.0 1186.8 773.0 1188.2 773.0C1189.5 773.0 1190.9 772.9 1192.2 772.9C1193.5 772.9 1194.9 772.9 1196.2 772.8C1197.5 772.8 1198.9 772.8 1200.2 772.8C1201.5 772.7 1202.9 772.7 1204.2 772.7C1205.5 772.6 1206.9 772.6 1208.2 772.6C1209.6 772.5 1210.9 772.5 1212.2 772.5C1213.6 772.4 1214.9 772.4 1216.2 772.4C1217.6 772.3 1218.9 772.3 1220.2 772.2C1221.6 772.2 1222.9 772.2 1224.3 772.1C1225.6 772.1 1226.9 772.0 1228.3 772.0C1229.6 771.9 1230.9 771.9 1232.3 771.9C1233.6 771.8 1234.9 771.8 1236.3 771.7C1237.6 771.7 1238.9 771.6 1240.3 771.6C1241.6 771.5 1242.9 771.5 1244.3 771.4C1245.6 771.3 1247.0 771.3 1248.3 771.2C1249.6 771.2 1251.0 771.1 1252.3 771.1C1253.6 771.0 1255.0 770.9 1256.3 770.9C1257.6 770.8 1259.0 770.7 1260.3 770.7C1261.6 770.6 1263.0 770.5 1264.3 770.5C1265.6 770.4 1267.0 770.3 1268.3 770.3C1269.6 770.2 1271.0 770.1 1272.3 770.1C1273.6 770.0 1275.0 769.9 1276.3 769.8C1277.6 769.8 1279.0 769.7 1280.3 769.6C1281.7 769.5 1283.0 769.5 1284.3 769.4C1285.7 769.3 1287.0 769.2 1288.3 769.1C1289.7 769.1 1291.0 769.0 1292.3 768.9C1293.6 768.8 1295.0 768.7 1296.3 768.7C1297.6 768.6 1299.0 768.5 1300.3 768.4C1301.6 768.3 1303.0 768.2 1304.3 768.2C1305.6 768.1 1307.0 768.0 1308.3 767.9C1309.6 767.8 1311.0 767.7 1312.3 767.7C1313.6 767.6 1315.0 767.5 1316.3 767.4C1317.6 767.3 1319.0 767.2 1320.3 767.1C1321.6 767.1 1323.0 767.0 1324.3 766.9C1325.6 766.8 1327.0 766.7 1328.3 766.6C1329.6 766.6 1330.9 766.5 1332.3 766.4C1333.6 766.3 1334.9 766.2 1336.3 766.1C1337.6 766.0 1338.9 766.0 1340.3 765.9C1341.6 765.8 1342.9 765.7 1344.3 765.6C1345.6 765.6 1346.9 765.5 1348.2 765.4C1349.6 765.3 1350.9 765.2 1352.2 765.1C1353.6 765.1 1354.9 765.0 1356.2 764.9C1357.6 764.8 1358.9 764.8 1360.2 764.7C1361.5 764.6 1362.9 764.5 1364.2 764.5C1365.5 764.4 1366.9 764.3 1368.2 764.2C1369.5 764.2 1370.9 764.1 1372.2 764.0C1373.5 764.0 1374.8 763.9 1376.2 763.8C1377.5 763.8 1378.8 763.7 1380.2 763.6C1381.5 763.6 1382.8 763.5 1384.2 763.4C1385.5 763.4 1386.8 763.3 1388.1 763.3C1389.5 763.2 1390.8 763.1 1392.1 763.1C1393.5 763.0 1394.8 763.0 1396.1 762.9C1397.4 762.9 1398.8 762.8 1400.1 762.8C1401.4 762.7 1402.8 762.7 1404.1 762.6C1405.4 762.6 1406.7 762.6 1408.1 762.5C1409.4 762.5 1410.7 762.4 1412.1 762.4C1413.4 762.4 1414.7 762.3 1416.0 762.3C1417.4 762.3 1418.7 762.2 1420.0 762.2C1421.4 762.2 1422.7 762.2 1424.0 762.1C1425.3 762.1 1426.7 762.1 1428.0 762.1C1429.3 762.1 1430.7 762.0 1432.0 762.0C1433.3 762.0 1434.6 762.0 1436.0 762.0C1437.3 762.0 1438.6 762.0 1439.9 761.9C1441.3 761.9 1442.6 761.9 1443.9 761.9C1445.3 761.9 1446.6 761.9 1447.9 761.9C1449.2 761.9 1450.6 761.9 1451.9 761.9C1453.2 761.9 1454.6 761.9 1455.9 761.9C1457.2 761.9 1458.5 761.9 1459.9 761.9C1461.2 761.9 1462.5 761.9 1463.8 761.9C1465.2 762.0 1466.5 762.0 1467.8 762.0C1469.2 762.0 1470.5 762.0 1471.8 762.0C1473.1 762.0 1474.5 762.0 1475.8 762.1C1477.1 762.1 1478.4 762.1 1479.8 762.1C1481.1 762.1 1482.4 762.2 1483.8 762.2C1485.1 762.2 1486.4 762.2 1487.7 762.2C1489.1 762.3 1490.4 762.3 1491.7 762.3C1493.0 762.3 1494.4 762.4 1495.7 762.4C1497.0 762.4 1498.3 762.4 1499.7 762.5C1501.0 762.5 1502.3 762.5 1503.7 762.6C1505.0 762.6 1506.3 762.6 1507.6 762.6C1509.0 762.7 1510.3 762.7 1511.6 762.7C1512.9 762.8 1514.3 762.8 1515.6 762.8C1516.9 762.9 1518.3 762.9 1519.6 762.9C1520.9 763.0 1522.2 763.0 1523.6 763.0C1524.9 763.1 1526.2 763.1 1527.5 763.1C1528.9 763.2 1530.2 763.2 1531.5 763.3C1532.8 763.3 1534.2 763.3 1535.5 763.4C1536.8 763.4 1538.2 763.4 1539.5 763.5C1540.8 763.5 1542.1 763.5 1543.5 763.6C1544.8 763.6 1546.1 763.7 1547.4 763.7C1548.8 763.7 1550.1 763.8 1551.4 763.8C1552.7 763.8 1554.1 763.9 1555.4 763.9C1556.7 764.0 1558.1 764.0 1559.4 764.0C1560.7 764.1 1562.0 764.1 1563.4 764.1C1564.7 764.2 1566.0 764.2 1567.3 764.2C1568.7 764.3 1570.0 764.3 1571.3 764.3C1572.6 764.4 1574.0 764.4 1575.3 764.5C1576.6 764.5 1578.0 764.5 1579.3 764.6C1580.6 764.6 1581.9 764.6 1583.3 764.7C1584.6 764.7 1585.9 764.7 1587.2 764.7C1588.6 764.8 1589.9 764.8 1591.2 764.8C1592.5 764.9 1593.9 764.9 1595.2 764.9C1596.5 765.0 1597.9 765.0 1599.2 765.0C1600.5 765.0 1601.8 765.1 1603.2 765.1C1604.5 765.1 1605.8 765.1 1607.1 765.2C1608.5 765.2 1609.8 765.2 1611.1 765.3C1612.4 765.3 1613.8 765.3 1615.1 765.3C1616.4 765.4 1617.8 765.4 1619.1 765.4C1620.4 765.4 1621.7 765.5 1623.1 765.5C1624.4 765.5 1625.7 765.5 1627.0 765.6C1628.4 765.6 1629.7 765.6 1631.0 765.6C1632.4 765.7 1633.7 765.7 1635.0 765.7C1636.3 765.8 1637.7 765.8 1639.0 765.8C1640.3 765.8 1641.6 765.9 1643.0 765.9C1644.3 765.9 1645.6 765.9 1647.0 766.0C1648.3 766.0 1649.6 766.0 1650.9 766.1C1652.3 766.1 1653.6 766.1 1654.9 766.2C1656.3 766.2 1657.6 766.2 1658.9 766.3C1660.2 766.3 1661.6 766.3 1662.9 766.4C1664.2 766.4 1665.5 766.4 1666.9 766.5C1668.2 766.5 1669.5 766.5 1670.9 766.6C1672.2 766.6 1673.5 766.6 1674.8 766.7C1676.2 766.7 1677.5 766.8 1678.8 766.8C1680.2 766.9 1681.5 766.9 1682.8 766.9C1684.1 767.0 1685.5 767.0 1686.8 767.1C1688.1 767.1 1689.5 767.2 1690.8 767.2C1692.1 767.3 1693.4 767.3 1694.8 767.4C1696.1 767.4 1697.4 767.5 1698.8 767.5C1700.1 767.6 1701.4 767.6 1702.7 767.7C1704.1 767.8 1705.4 767.8 1706.7 767.9C1708.1 767.9 1709.4 768.0 1710.7 768.1C1712.0 768.1 1713.4 768.2 1714.7 768.3C1716.0 768.3 1717.4 768.4 1718.7 768.5C1720.0 768.5 1721.4 768.6 1722.7 768.7C1724.0 768.8 1725.3 768.8 1726.7 768.9C1728.0 769.0 1729.3 769.1 1730.7 769.2C1732.0 769.2 1733.3 769.3 1734.7 769.4C1736.0 769.5 1737.3 769.6 1738.6 769.7C1740.0 769.8 1741.3 769.9 1742.6 769.9C1744.0 770.0 1745.3 770.1 1746.6 770.2C1748.0 770.3 1749.3 770.4 1750.6 770.5C1751.9 770.6 1753.3 770.8 1754.6 770.9C1755.9 771.0 1757.3 771.1 1758.6 771.2C1759.9 771.3 1761.3 771.4 1762.6 771.5C1763.9 771.7 1765.3 771.8 1766.6 771.9C1767.9 772.0 1769.2 772.2 1770.6 772.3C1771.9 772.4 1773.2 772.6 1774.6 772.7C1775.9 772.8 1777.2 773.0 1778.6 773.1C1779.9 773.3 1781.2 773.4 1782.6 773.5C1783.9 773.7 1785.2 773.8 1786.6 774.0C1787.9 774.1 1789.2 774.3 1790.6 774.5C1791.9 774.6 1793.2 774.8 1794.6 774.9C1795.9 775.1 1797.9 775.4 1798.6 775.5" stroke="#46148a"/>
</g>
<path d="M296.0 53.5H1936.3V1338.3H296.0ZM277 53.5H296.0M277 483.1H296.0M277 909.1H296.0M277 1338.3H296.0M295.6 1338.3V1357.8M412.3 1338.3V1352.3M529.5 1338.3V1357.8M645.9 1338.3V1352.3M763.0 1338.3V1357.8M879.8 1338.3V1352.3M997.0 1338.3V1357.8M1113.7 1338.3V1352.3M1230.7 1338.3V1357.8M1347.7 1338.3V1352.3M1469.0 1338.3V1357.8M1586.0 1338.3V1352.3M1702.6 1338.3V1357.8M1819.8 1338.3V1352.3M1936.3 1338.3V1357.8" stroke="#000" fill="none" stroke-width="4.3"/>
<path d="M1413 119.8H1524.5" stroke="#000000" stroke-width="5" stroke-linecap="round"/>
<path d="M1413 215.9H1524.5" stroke="#ff0000" stroke-width="5" stroke-linecap="round"/>
<path d="M1413 307.7H1524.5" stroke="#0a4ea6" stroke-width="5" stroke-linecap="round"/>
<path d="M1413 403.7H1524.5" stroke="#158a36" stroke-width="5" stroke-linecap="round"/>
<path d="M1413 496.2H1524.5" stroke="#46148a" stroke-width="5" stroke-linecap="round"/>
<g font-family="Liberation Sans, Arial, Helvetica, sans-serif" fill="#000" stroke="#000" stroke-linejoin="round">
<text transform="matrix(1.08320 0 0 1.09586 87.75 61.70)" font-size="50" font-weight="bold" stroke-width="1.1">10,000</text>
<text transform="matrix(1.04942 0 0 1.05008 136.80 497.07)" font-size="50" font-weight="bold" stroke-width="1.1">1000</text>
<text transform="matrix(1.03408 0 0 1.05273 167.06 926.22)" font-size="50" font-weight="bold" stroke-width="1.1">100</text>
<text transform="matrix(1.03344 0 0 1.10558 197.83 1353.02)" font-size="50" font-weight="bold" stroke-width="1.1">10</text>
<text transform="matrix(1.09069 0 0 1.05524 267.79 1415.51)" font-size="50" font-weight="bold" stroke-width="1.1">20</text>
<text transform="matrix(1.10750 0 0 1.05524 500.88 1415.51)" font-size="50" font-weight="bold" stroke-width="1.1">40</text>
<text transform="matrix(1.07976 0 0 1.05524 735.81 1415.51)" font-size="50" font-weight="bold" stroke-width="1.1">60</text>
<text transform="matrix(1.09311 0 0 1.05524 968.44 1415.51)" font-size="50" font-weight="bold" stroke-width="1.1">80</text>
<text transform="matrix(1.01659 0 0 1.05524 1190.92 1415.51)" font-size="50" font-weight="bold" stroke-width="1.1">100</text>
<text transform="matrix(0.99366 0 0 1.05524 1424.57 1415.52)" font-size="50" font-weight="bold" stroke-width="1.1">120</text>
<text transform="matrix(1.00295 0 0 1.05524 1657.99 1415.52)" font-size="50" font-weight="bold" stroke-width="1.1">140</text>
<text transform="matrix(0.97893 0 0 1.05524 1893.44 1415.52)" font-size="50" font-weight="bold" stroke-width="1.1">160</text>
<text transform="matrix(0.98815 0 0 0.99642 909.01 1519.63)" font-size="50" font-weight="bold" stroke-width="0.5">Temperature (</text>
<text transform="matrix(0.62395 0 0 0.57169 1238.22 1503.36)" font-size="50" font-weight="normal" stroke-width="1">o</text>
<text transform="matrix(0.97616 0 0 0.99245 1257.03 1519.47)" font-size="50" font-weight="bold" stroke-width="0.2">C)</text>
<text transform="matrix(0 -1.00056 0.99539 0 63.71 958.80)" font-size="50" font-weight="bold" stroke-width="0.45" stroke="#fff">Storage modulus (MPa)</text>
<text transform="matrix(1.01032 0 0 0.99399 1533.98 137.25)" font-size="50" font-weight="bold" stroke-width="1.7">without</text>
<text transform="matrix(0.96722 0 0 1.01258 1725.90 137.82)" font-size="50" font-weight="bold" stroke-width="1.7">PPZn</text>
<text transform="matrix(0.95167 0 0 1.02937 1533.09 229.23)" font-size="50" font-weight="bold" stroke-width="1.7">0.5%</text>
<text transform="matrix(0.96762 0 0 1.02231 1663.08 229.23)" font-size="50" font-weight="bold" stroke-width="1.7">PPZn</text>
<text transform="matrix(0.90496 0 0 1.05008 1532.07 325.46)" font-size="50" font-weight="bold" stroke-width="1.7">1%</text>
<text transform="matrix(0.97728 0 0 1.04011 1620.85 325.50)" font-size="50" font-weight="bold" stroke-width="1.7">PPZn</text>
<text transform="matrix(0.91948 0 0 1.01332 1532.66 417.69)" font-size="50" font-weight="bold" stroke-width="1.7">2%</text>
<text transform="matrix(0.97728 0 0 1.02961 1620.85 417.65)" font-size="50" font-weight="bold" stroke-width="1.7">PPZn</text>
<text transform="matrix(0.89967 0 0 1.01332 1533.43 513.69)" font-size="50" font-weight="bold" stroke-width="1.7">4%</text>
<text transform="matrix(0.97728 0 0 1.02961 1620.85 513.65)" font-size="50" font-weight="bold" stroke-width="1.7">PPZn</text>
</g>
</g>
</svg>
</body></html>
